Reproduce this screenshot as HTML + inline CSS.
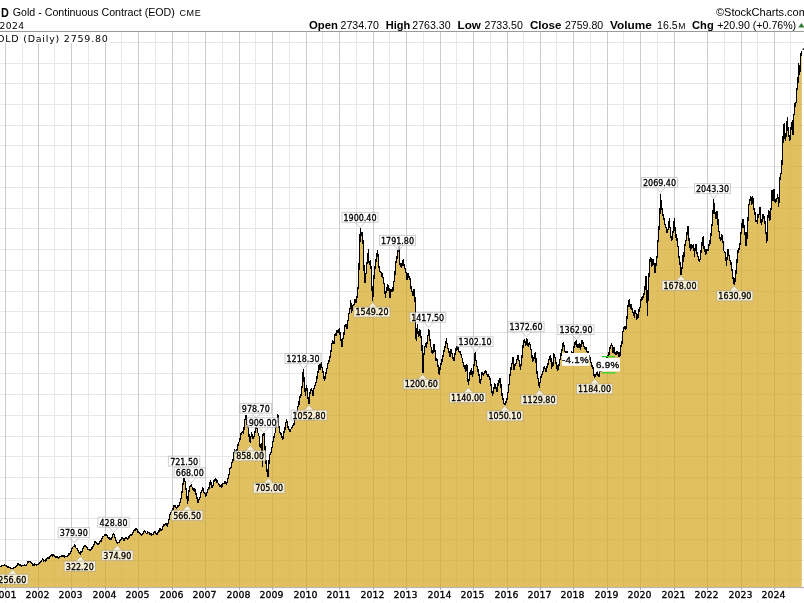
<!DOCTYPE html>
<html lang="en"><head><meta charset="utf-8"><title>$GOLD Gold - Continuous Contract (EOD) CME - StockCharts.com</title>
<style>
html,body{margin:0;padding:0;background:#fff;}
body{width:804px;height:603px;overflow:hidden;position:relative;}
svg{display:block;position:absolute;left:0;top:0;will-change:transform;}
text{font-family:"Liberation Sans",sans-serif;fill:#000;}
.dv{font-family:"DejaVu Sans","Liberation Sans",sans-serif;}
.dc{font-family:"DejaVu Sans Condensed","DejaVu Sans","Liberation Sans",sans-serif;}
.b{font-weight:bold;}
.lb rect,.lb path{fill:#fff;fill-opacity:.72;stroke:#8c8c8c;stroke-opacity:.42;stroke-width:1;}
.lb text{font-size:9.45px;text-anchor:middle;stroke:#000;stroke-width:.3px;}
</style></head><body>
<svg width="804" height="603" viewBox="0 0 804 603">
<rect x="0" y="0" width="804" height="603" fill="#fff"/>
<g id="grid" stroke-width="1"><line x1="0" y1="42.50" x2="804" y2="42.50" stroke="#e7e7e7"/><line x1="0" y1="63.50" x2="804" y2="63.50" stroke="#e7e7e7"/><line x1="0" y1="83.50" x2="804" y2="83.50" stroke="#e7e7e7"/><line x1="0" y1="104.50" x2="804" y2="104.50" stroke="#e7e7e7"/><line x1="0" y1="125.50" x2="804" y2="125.50" stroke="#e7e7e7"/><line x1="0" y1="145.50" x2="804" y2="145.50" stroke="#e7e7e7"/><line x1="0" y1="166.50" x2="804" y2="166.50" stroke="#e7e7e7"/><line x1="0" y1="187.50" x2="804" y2="187.50" stroke="#e7e7e7"/><line x1="0" y1="208.50" x2="804" y2="208.50" stroke="#e7e7e7"/><line x1="0" y1="228.50" x2="804" y2="228.50" stroke="#e7e7e7"/><line x1="0" y1="249.50" x2="804" y2="249.50" stroke="#e7e7e7"/><line x1="0" y1="270.50" x2="804" y2="270.50" stroke="#e7e7e7"/><line x1="0" y1="291.50" x2="804" y2="291.50" stroke="#e7e7e7"/><line x1="0" y1="311.50" x2="804" y2="311.50" stroke="#e7e7e7"/><line x1="0" y1="332.50" x2="804" y2="332.50" stroke="#e7e7e7"/><line x1="0" y1="353.50" x2="804" y2="353.50" stroke="#e7e7e7"/><line x1="0" y1="373.50" x2="804" y2="373.50" stroke="#e7e7e7"/><line x1="0" y1="394.50" x2="804" y2="394.50" stroke="#e7e7e7"/><line x1="0" y1="415.50" x2="804" y2="415.50" stroke="#e7e7e7"/><line x1="0" y1="436.50" x2="804" y2="436.50" stroke="#e7e7e7"/><line x1="0" y1="456.50" x2="804" y2="456.50" stroke="#e7e7e7"/><line x1="0" y1="477.50" x2="804" y2="477.50" stroke="#e7e7e7"/><line x1="0" y1="498.50" x2="804" y2="498.50" stroke="#e7e7e7"/><line x1="0" y1="518.50" x2="804" y2="518.50" stroke="#e7e7e7"/><line x1="0" y1="539.50" x2="804" y2="539.50" stroke="#e7e7e7"/><line x1="0" y1="560.50" x2="804" y2="560.50" stroke="#e7e7e7"/><line x1="0" y1="579.60" x2="804" y2="579.60" stroke="#e7e7e7"/><line x1="5.50" y1="31.5" x2="5.50" y2="587.3" stroke="#cccccc"/><line x1="22.50" y1="31.5" x2="22.50" y2="587.3" stroke="#e7e7e7"/><line x1="38.50" y1="31.5" x2="38.50" y2="587.3" stroke="#cccccc"/><line x1="54.50" y1="31.5" x2="54.50" y2="587.3" stroke="#e7e7e7"/><line x1="71.50" y1="31.5" x2="71.50" y2="587.3" stroke="#cccccc"/><line x1="88.50" y1="31.5" x2="88.50" y2="587.3" stroke="#e7e7e7"/><line x1="105.50" y1="31.5" x2="105.50" y2="587.3" stroke="#cccccc"/><line x1="121.50" y1="31.5" x2="121.50" y2="587.3" stroke="#e7e7e7"/><line x1="138.50" y1="31.5" x2="138.50" y2="587.3" stroke="#cccccc"/><line x1="155.50" y1="31.5" x2="155.50" y2="587.3" stroke="#e7e7e7"/><line x1="172.50" y1="31.5" x2="172.50" y2="587.3" stroke="#cccccc"/><line x1="188.50" y1="31.5" x2="188.50" y2="587.3" stroke="#e7e7e7"/><line x1="205.50" y1="31.5" x2="205.50" y2="587.3" stroke="#cccccc"/><line x1="222.50" y1="31.5" x2="222.50" y2="587.3" stroke="#e7e7e7"/><line x1="239.50" y1="31.5" x2="239.50" y2="587.3" stroke="#cccccc"/><line x1="255.50" y1="31.5" x2="255.50" y2="587.3" stroke="#e7e7e7"/><line x1="272.50" y1="31.5" x2="272.50" y2="587.3" stroke="#cccccc"/><line x1="289.50" y1="31.5" x2="289.50" y2="587.3" stroke="#e7e7e7"/><line x1="306.50" y1="31.5" x2="306.50" y2="587.3" stroke="#cccccc"/><line x1="322.50" y1="31.5" x2="322.50" y2="587.3" stroke="#e7e7e7"/><line x1="339.50" y1="31.5" x2="339.50" y2="587.3" stroke="#cccccc"/><line x1="356.50" y1="31.5" x2="356.50" y2="587.3" stroke="#e7e7e7"/><line x1="373.50" y1="31.5" x2="373.50" y2="587.3" stroke="#cccccc"/><line x1="389.50" y1="31.5" x2="389.50" y2="587.3" stroke="#e7e7e7"/><line x1="406.50" y1="31.5" x2="406.50" y2="587.3" stroke="#cccccc"/><line x1="423.50" y1="31.5" x2="423.50" y2="587.3" stroke="#e7e7e7"/><line x1="440.50" y1="31.5" x2="440.50" y2="587.3" stroke="#cccccc"/><line x1="456.50" y1="31.5" x2="456.50" y2="587.3" stroke="#e7e7e7"/><line x1="473.50" y1="31.5" x2="473.50" y2="587.3" stroke="#cccccc"/><line x1="490.50" y1="31.5" x2="490.50" y2="587.3" stroke="#e7e7e7"/><line x1="507.50" y1="31.5" x2="507.50" y2="587.3" stroke="#cccccc"/><line x1="523.50" y1="31.5" x2="523.50" y2="587.3" stroke="#e7e7e7"/><line x1="540.50" y1="31.5" x2="540.50" y2="587.3" stroke="#cccccc"/><line x1="556.50" y1="31.5" x2="556.50" y2="587.3" stroke="#e7e7e7"/><line x1="573.50" y1="31.5" x2="573.50" y2="587.3" stroke="#cccccc"/><line x1="590.50" y1="31.5" x2="590.50" y2="587.3" stroke="#e7e7e7"/><line x1="607.50" y1="31.5" x2="607.50" y2="587.3" stroke="#cccccc"/><line x1="623.50" y1="31.5" x2="623.50" y2="587.3" stroke="#e7e7e7"/><line x1="640.50" y1="31.5" x2="640.50" y2="587.3" stroke="#cccccc"/><line x1="657.50" y1="31.5" x2="657.50" y2="587.3" stroke="#e7e7e7"/><line x1="674.50" y1="31.5" x2="674.50" y2="587.3" stroke="#cccccc"/><line x1="724.50" y1="31.5" x2="724.50" y2="587.3" stroke="#e7e7e7"/><line x1="707.50" y1="31.5" x2="707.50" y2="587.3" stroke="#cccccc"/><line x1="757.50" y1="31.5" x2="757.50" y2="587.3" stroke="#e7e7e7"/><line x1="741.50" y1="31.5" x2="741.50" y2="587.3" stroke="#cccccc"/><line x1="757.50" y1="31.5" x2="757.50" y2="587.3" stroke="#e7e7e7"/><line x1="774.50" y1="31.5" x2="774.50" y2="587.3" stroke="#cccccc"/><line x1="790.50" y1="31.5" x2="790.50" y2="587.3" stroke="#e7e7e7"/></g>
<polygon id="area" points="0,587.3 0.0,566.6 0.39,566.3 0.77,566.4 1.16,566.0 1.54,565.7 1.93,565.3 2.31,565.4 2.7,565.3 3.1,565.6 3.5,565.2 3.9,565.3 4.3,564.8 4.7,564.6 5.1,565.1 5.5,565.5 5.9,565.2 6.3,566.5 6.7,566.6 7.07,566.9 7.43,567.1 7.8,566.4 8.17,566.6 8.53,567.0 8.9,567.3 9.27,567.7 9.63,567.7 10.0,567.9 10.37,568.2 10.74,567.9 11.11,568.3 11.49,568.4 11.86,568.2 12.23,569.1 12.6,568.6 13.0,568.6 13.4,568.6 13.8,567.7 14.2,567.5 14.6,567.5 15.0,567.2 15.4,567.1 15.8,567.2 16.2,566.9 16.6,566.6 16.95,565.6 17.3,564.6 17.65,563.9 18.0,563.3 18.43,564.4 18.87,564.3 19.3,565.3 19.7,565.5 20.1,565.7 20.5,565.1 20.9,565.8 21.3,565.9 21.69,566.3 22.07,565.0 22.46,565.5 22.84,565.5 23.23,565.2 23.61,565.6 24.0,565.3 24.37,565.2 24.74,564.6 25.11,565.3 25.49,565.2 25.86,565.2 26.23,565.2 26.6,564.6 27.0,564.1 27.4,563.3 27.8,562.1 28.2,562.2 28.6,561.3 29.0,561.3 29.4,561.6 29.8,561.6 30.2,562.0 30.6,562.6 30.99,562.7 31.37,563.7 31.76,562.7 32.14,563.2 32.53,564.1 32.91,564.9 33.3,564.6 33.69,564.9 34.07,564.0 34.46,563.8 34.84,564.9 35.23,564.5 35.61,564.4 36.0,564.9 36.37,565.1 36.74,565.0 37.11,564.5 37.49,564.4 37.86,564.3 38.23,564.6 38.6,563.9 39.0,563.7 39.4,563.3 39.8,562.9 40.2,561.7 40.6,561.9 41.02,561.8 41.45,561.0 41.88,560.2 42.3,559.3 42.7,559.0 43.1,560.0 43.5,561.1 43.9,561.3 44.3,560.3 44.7,560.7 45.1,560.9 45.5,559.7 45.9,559.9 46.3,560.2 46.7,559.3 47.1,558.6 47.5,558.4 47.9,557.9 48.3,558.1 48.7,557.7 49.1,558.0 49.5,557.1 49.9,557.3 50.3,556.6 50.7,556.7 51.1,555.7 51.5,554.8 51.9,554.6 52.3,555.3 52.7,555.8 53.1,555.2 53.5,555.0 53.9,555.9 54.3,556.0 54.7,556.1 55.1,556.2 55.5,557.1 55.9,556.6 56.3,556.4 56.7,557.7 57.1,556.8 57.5,557.3 57.9,557.9 58.3,557.9 58.7,557.9 59.1,557.5 59.5,557.0 59.9,556.6 60.3,556.5 60.7,556.4 61.1,556.4 61.5,556.0 61.9,555.9 62.3,555.9 62.7,555.9 63.1,555.5 63.5,555.8 63.9,555.3 64.3,555.8 64.7,556.7 65.1,556.2 65.5,556.2 65.9,556.6 66.3,556.3 66.7,556.3 67.1,556.6 67.5,555.9 67.9,555.9 68.3,555.7 68.7,555.9 69.1,553.6 69.5,553.8 69.9,553.9 70.3,553.0 70.7,552.0 71.1,550.8 71.5,549.5 71.9,548.6 72.33,548.3 72.77,547.4 73.2,546.6 73.55,545.8 73.9,546.7 74.25,545.1 74.6,544.4 75.0,545.2 75.4,546.5 75.8,547.4 76.2,548.6 76.54,548.8 76.88,547.8 77.22,549.1 77.56,550.1 77.9,549.9 78.3,550.2 78.7,551.5 79.1,552.7 79.5,553.5 79.9,553.9 80.3,554.2 80.7,552.3 81.1,552.5 81.5,552.1 81.9,551.9 82.3,551.3 82.7,550.6 83.1,547.9 83.5,548.7 83.9,547.3 84.33,546.1 84.77,546.6 85.2,545.7 85.6,545.4 86.0,546.7 86.4,547.6 86.8,547.4 87.2,547.9 87.6,548.4 88.0,549.1 88.4,549.2 88.8,549.5 89.2,549.9 89.6,550.5 90.0,550.2 90.4,549.4 90.8,550.7 91.2,549.3 91.6,548.1 92.0,548.4 92.4,547.2 92.8,546.7 93.2,546.0 93.6,545.6 94.0,544.5 94.4,543.9 94.8,542.0 95.2,542.0 95.6,541.6 96.0,543.1 96.4,542.7 96.8,543.1 97.2,544.0 97.6,543.1 98.0,544.4 98.4,544.0 98.8,544.2 99.2,543.3 99.55,542.2 99.9,542.1 100.25,540.9 100.6,541.4 100.95,541.2 101.3,539.3 101.65,540.0 102.0,538.6 102.4,538.6 102.8,537.5 103.2,535.9 103.6,537.3 104.0,536.0 104.4,535.5 104.8,534.9 105.2,535.0 105.6,534.6 106.0,534.0 106.4,535.5 106.8,534.7 107.2,536.6 107.6,537.5 108.0,537.3 108.4,538.4 108.8,537.7 109.2,537.7 109.6,538.9 110.0,538.6 110.43,538.9 110.87,539.1 111.3,539.3 111.73,538.8 112.17,536.5 112.6,535.3 112.95,533.7 113.3,534.4 113.65,533.3 114.0,534.0 114.43,536.0 114.87,537.2 115.3,538.6 115.7,539.2 116.1,540.5 116.5,541.9 116.9,542.4 117.3,543.3 117.7,543.6 118.1,542.5 118.5,542.6 118.9,542.5 119.3,541.3 119.7,541.9 120.1,540.4 120.5,540.9 120.9,539.2 121.3,539.9 121.73,538.6 122.17,537.5 122.6,537.9 122.95,539.2 123.3,538.6 123.65,539.9 124.0,540.6 124.4,539.8 124.8,539.3 125.2,538.3 125.6,538.1 126.0,537.3 126.38,538.5 126.76,537.8 127.14,538.4 127.52,538.9 127.9,538.6 128.3,538.0 128.7,536.9 129.1,536.7 129.5,537.1 129.9,536.0 130.3,534.8 130.7,535.1 131.1,535.7 131.5,535.3 131.9,534.6 132.3,533.9 132.7,533.7 133.1,532.7 133.5,531.3 133.9,531.3 134.3,529.7 134.7,529.6 135.1,529.9 135.5,528.3 135.9,528.0 136.3,528.3 136.7,529.1 137.1,529.5 137.5,531.1 137.9,532.0 138.3,531.7 138.7,533.0 139.1,531.8 139.5,533.8 139.9,534.0 140.3,533.9 140.7,533.4 141.1,535.2 141.5,534.9 141.9,535.3 142.25,533.3 142.6,533.4 142.95,533.4 143.3,532.6 143.73,531.7 144.17,531.7 144.6,530.6 145.0,531.6 145.4,532.1 145.8,532.4 146.2,533.5 146.6,533.3 147.0,533.4 147.4,533.0 147.8,531.3 148.2,532.8 148.6,532.0 149.0,533.2 149.4,532.6 149.8,532.9 150.2,534.7 150.6,534.0 151.0,533.1 151.4,534.5 151.8,535.8 152.2,533.9 152.6,534.6 153.0,534.3 153.4,534.4 153.8,532.5 154.2,532.3 154.6,531.3 155.0,532.5 155.4,532.1 155.8,533.2 156.2,534.1 156.6,534.6 157.0,534.6 157.4,533.5 157.8,532.9 158.2,531.9 158.6,532.0 158.94,531.1 159.28,531.2 159.62,530.0 159.96,528.8 160.3,528.6 160.7,528.4 161.1,530.9 161.5,530.3 161.9,530.0 162.3,529.3 162.7,526.2 163.1,527.1 163.5,526.0 163.9,524.6 164.3,525.6 164.7,524.6 165.1,524.2 165.5,524.5 165.9,524.0 166.3,523.3 166.7,525.7 167.1,525.7 167.5,526.0 167.93,523.5 168.37,522.9 168.8,520.0 169.17,519.7 169.53,515.9 169.9,515.3 170.33,513.7 170.77,513.3 171.2,512.0 171.6,511.3 172.0,510.1 172.4,508.9 172.8,510.4 173.2,508.0 173.6,508.1 174.0,505.8 174.4,505.0 174.8,506.6 175.2,504.7 175.55,506.3 175.9,507.7 176.25,507.8 176.6,508.0 176.98,507.1 177.36,507.7 177.74,505.6 178.12,506.4 178.5,506.7 178.85,505.7 179.2,505.1 179.55,503.1 179.9,502.7 180.3,500.9 180.7,499.7 181.1,498.0 181.5,496.0 181.93,493.0 182.37,489.0 182.8,485.3 183.15,483.2 183.5,482.4 183.85,479.9 184.2,478.0 184.63,479.4 185.07,481.8 185.5,484.6 185.87,487.5 186.23,490.3 186.6,493.3 187.1,498.7 187.6,503.9 188.05,498.6 188.5,493.3 188.85,491.8 189.2,489.8 189.55,487.2 189.9,486.6 190.33,486.3 190.77,486.2 191.2,484.6 191.63,486.3 192.07,487.1 192.5,488.6 192.85,489.7 193.2,489.1 193.55,489.0 193.9,491.3 194.33,490.9 194.77,489.6 195.2,490.0 195.63,493.1 196.07,494.0 196.5,497.3 196.85,496.5 197.2,499.1 197.55,502.5 197.9,502.6 198.32,501.3 198.75,499.5 199.18,499.0 199.6,498.6 200.0,497.4 200.4,495.7 200.8,493.8 201.2,492.0 201.6,492.1 202.0,490.3 202.4,488.5 202.8,487.3 203.16,489.0 203.52,491.1 203.88,491.7 204.24,493.0 204.6,493.3 204.95,493.0 205.3,494.5 205.65,495.9 206.0,495.9 206.43,493.9 206.87,493.3 207.3,490.6 207.7,490.1 208.1,489.3 208.5,487.2 208.9,488.6 209.3,485.3 209.73,484.9 210.17,482.0 210.6,480.6 210.95,482.5 211.3,486.6 211.65,485.8 212.0,487.9 212.43,487.4 212.85,486.1 213.27,483.9 213.7,482.6 214.1,480.5 214.5,480.8 214.9,479.9 215.3,478.6 215.7,480.2 216.1,480.4 216.5,480.2 216.9,481.6 217.3,481.3 217.7,482.6 218.1,483.1 218.5,483.7 218.9,484.3 219.3,485.3 219.7,486.3 220.1,485.2 220.5,485.9 220.9,486.9 221.3,487.3 221.7,485.3 222.1,485.6 222.5,483.5 222.9,484.0 223.3,483.9 223.7,483.8 224.1,483.1 224.5,481.9 224.9,481.3 225.32,481.6 225.75,481.0 226.18,484.5 226.6,483.3 226.94,482.6 227.28,481.9 227.62,478.9 227.96,478.3 228.3,477.3 228.65,473.9 229.0,474.7 229.35,473.2 229.7,470.6 230.1,467.7 230.5,468.5 230.9,468.2 231.3,466.6 231.7,463.5 232.1,462.1 232.5,461.5 232.9,461.3 233.32,457.6 233.75,453.8 234.18,452.3 234.6,449.3 235.03,450.9 235.47,452.7 235.9,453.3 236.24,452.9 236.59,452.7 236.93,451.2 237.27,447.3 237.61,447.0 237.96,445.2 238.3,445.3 238.7,442.4 239.1,442.0 239.5,440.5 239.9,439.5 240.3,437.3 240.7,434.3 241.1,433.7 241.5,434.1 241.9,432.8 242.3,432.0 242.73,432.0 243.17,432.8 243.6,433.3 244.03,427.9 244.47,425.3 244.9,420.0 245.4,417.8 245.9,414.6 246.4,419.2 246.9,424.0 247.25,424.8 247.6,427.1 247.95,425.5 248.3,430.6 248.8,433.4 249.3,438.6 249.8,440.6 250.3,442.6 250.73,437.3 251.17,435.8 251.6,432.0 252.03,434.4 252.47,434.7 252.9,438.6 253.25,437.6 253.6,436.9 253.95,437.2 254.3,436.0 254.73,434.1 255.17,430.6 255.6,428.0 256.03,427.1 256.47,428.2 256.9,428.6 257.33,430.1 257.77,432.6 258.2,433.3 258.55,435.3 258.9,435.7 259.25,436.6 259.6,439.9 260.2,447.9 260.55,446.5 260.9,445.0 261.25,443.6 261.6,443.9 262.05,455.1 262.5,466.6 262.9,434.6 263.27,433.6 263.63,433.9 264.0,433.3 264.45,440.6 264.9,446.6 265.35,452.1 265.8,458.6 266.17,464.5 266.53,465.3 266.9,469.2 267.27,472.9 267.63,474.5 268.0,477.0 268.45,471.6 268.9,463.9 269.33,457.8 269.77,456.0 270.2,453.3 270.55,452.6 270.9,452.0 271.25,452.9 271.6,449.3 272.03,447.0 272.47,445.4 272.9,441.3 273.33,440.4 273.77,438.9 274.2,436.0 274.55,435.3 274.9,433.1 275.25,432.6 275.6,430.6 276.03,426.6 276.47,426.8 276.9,422.6 277.35,417.3 277.8,414.6 278.17,418.9 278.53,425.4 278.9,426.6 279.33,428.6 279.77,431.1 280.2,433.3 280.55,435.1 280.9,434.0 281.25,433.3 281.6,434.6 282.1,437.6 282.6,439.9 283.03,438.4 283.47,436.4 283.9,433.3 284.25,430.3 284.6,431.5 284.95,429.4 285.3,425.3 285.73,423.3 286.17,421.6 286.6,419.3 287.03,421.4 287.47,426.5 287.9,427.3 288.26,427.2 288.62,429.7 288.98,429.1 289.34,429.6 289.7,431.3 290.1,431.5 290.5,431.6 290.9,429.3 291.3,428.6 291.7,426.9 292.1,428.0 292.5,426.1 292.9,425.8 293.3,424.6 293.73,425.2 294.17,423.4 294.6,420.6 295.03,417.7 295.47,419.2 295.9,414.0 296.3,414.2 296.7,412.3 297.1,411.6 297.5,407.7 297.9,406.7 298.3,404.9 298.69,401.0 299.07,404.8 299.46,402.9 299.84,397.8 300.23,396.1 300.61,394.6 301.0,395.6 301.43,393.8 301.87,387.8 302.3,384.9 302.67,379.5 303.03,373.8 303.4,369.0 303.85,376.8 304.3,384.9 304.73,386.8 305.17,392.1 305.6,395.6 306.1,388.1 306.6,384.9 307.1,389.5 307.6,394.3 307.95,397.1 308.3,399.6 308.65,400.9 309.0,403.6 309.5,396.9 310.0,392.9 310.4,391.8 310.8,389.5 311.2,391.3 311.6,387.6 311.95,390.8 312.3,391.4 312.65,392.9 313.0,395.6 313.43,391.9 313.87,388.9 314.3,387.6 314.7,385.7 315.1,385.4 315.5,384.4 315.9,383.2 316.3,381.0 316.73,382.0 317.15,375.2 317.57,374.0 318.0,371.6 318.5,372.9 319.0,365.0 319.45,364.6 319.9,370.3 320.33,366.8 320.77,365.2 321.2,362.3 321.62,364.9 322.05,367.6 322.47,368.9 322.9,371.6 323.26,374.1 323.62,375.4 323.98,378.5 324.34,376.1 324.7,381.0 325.13,376.9 325.57,375.7 326.0,373.0 326.4,369.6 326.8,367.9 327.2,369.0 327.6,366.3 328.0,363.5 328.4,364.0 328.8,362.5 329.2,359.6 329.6,358.5 330.0,357.1 330.4,354.6 330.85,351.7 331.3,349.2 331.73,343.6 332.17,342.9 332.6,339.9 332.95,341.7 333.3,340.9 333.65,342.7 334.0,343.9 334.43,341.7 334.87,335.2 335.3,333.3 335.7,334.0 336.1,335.7 336.5,330.6 336.9,331.4 337.3,330.6 337.7,329.8 338.1,332.5 338.5,329.6 338.9,330.2 339.3,327.9 339.73,330.2 340.17,335.0 340.6,338.6 340.95,340.6 341.3,339.4 341.65,347.2 342.0,346.6 342.43,345.6 342.87,338.1 343.3,338.6 343.73,336.7 344.15,331.7 344.57,329.5 345.0,325.3 345.4,326.7 345.8,323.7 346.2,326.8 346.6,327.9 346.95,329.1 347.3,323.5 347.65,321.0 348.0,321.3 348.43,315.9 348.87,313.5 349.3,313.3 349.73,309.6 350.17,307.9 350.6,300.0 350.95,303.5 351.3,305.8 351.65,312.6 352.0,310.6 352.43,307.8 352.87,305.7 353.3,305.3 353.73,305.1 354.17,303.8 354.6,301.3 355.0,299.5 355.4,299.5 355.8,302.9 356.2,302.6 356.7,299.8 357.2,296 357.6,289.4 358.0,288.1 358.4,284.8 358.8,272.2 359.2,262 359.8,245 360.3,228.3 360.67,231.9 361.03,232.9 361.4,235.6 361.85,233.4 362.3,231.6 362.75,237.4 363.2,244.9 363.55,257.4 363.9,264.9 364.4,277.0 364.9,282.8 365.4,277.5 365.9,273.8 366.27,272.3 366.65,265.1 367.02,263.5 367.4,259.9 367.9,256.5 368.4,249.5 368.9,260.8 369.4,264.9 369.9,261.5 370.4,259.9 370.9,266.2 371.4,272.8 372.0,288 372.6,301.3 373.05,295.1 373.5,288 373.95,277.1 374.4,272.8 374.75,270.4 375.1,266.3 375.45,266.2 375.8,262.9 376.3,257.7 376.8,257.9 377.3,250.4 377.8,252.4 378.3,259.2 378.8,265.9 379.18,268.0 379.55,267.6 379.93,272.4 380.3,271.8 380.68,272.2 381.05,272.4 381.43,275.9 381.8,275.8 382.18,272.8 382.55,275.3 382.93,277.3 383.3,277.8 383.8,282.7 384.3,283.8 384.7,288.2 385.1,293.9 385.5,298 385.93,292.9 386.37,291.3 386.8,287 387.2,290.1 387.6,284.5 388.0,290.7 388.4,285 388.77,286.7 389.15,291.2 389.52,294.6 389.9,297.3 390.25,298.1 390.6,291.9 390.95,288.6 391.3,291.7 391.68,291.8 392.05,291.0 392.43,289.4 392.8,286.8 393.18,290.9 393.55,283.8 393.93,282.1 394.3,279.8 394.75,277.0 395.2,269.9 395.7,265.8 396.2,259.9 396.7,261.3 397.2,254.9 397.63,250.6 398.07,251.3 398.5,250.9 399.0,246.2 399.5,257.9 399.85,263.3 400.2,264.9 400.7,265.0 401.2,266.9 401.7,267.0 402.2,262.9 402.7,266.0 403.2,258.9 403.7,262.9 404.2,266.9 404.57,267.5 404.95,268.2 405.32,268.7 405.7,271.8 406.07,272.4 406.45,277.2 406.82,277.9 407.2,279.8 407.7,276.4 408.2,272.8 408.57,273.4 408.95,276.9 409.32,276.9 409.7,276.8 410.2,280.0 410.7,283.8 411.2,289.2 411.7,291.7 412.07,292.1 412.43,290.8 412.8,294 413.17,295.6 413.53,291.9 413.9,289.3 414.27,289.9 414.63,296.9 415.0,297.3 415.35,309.4 415.7,320.0 416.2,341.3 416.57,332.6 416.93,332.8 417.3,324.0 417.73,329.1 418.17,334.6 418.6,337.3 418.95,336.0 419.3,333.7 419.65,329.4 420.0,330.6 420.5,335.1 421.0,336.0 421.5,341.4 422.0,346.6 422.45,359.4 422.9,373.2 423.27,367.2 423.63,360.1 424.0,353.3 424.43,351.8 424.87,347.3 425.3,345.3 425.73,346.1 426.17,343.2 426.6,347.9 426.97,343.2 427.33,341.2 427.7,336.0 428.15,334.8 428.6,328.6 428.95,330.7 429.3,334.0 429.65,340.0 430.0,339.9 430.43,342.0 430.87,346.6 431.3,347.9 431.73,352.7 432.17,351.6 432.6,353.3 432.95,353.1 433.3,347.3 433.65,346.6 434.0,343.9 434.43,346.9 434.87,350.4 435.3,353.3 435.73,357.0 436.17,361.0 436.6,358.6 437.03,359.7 437.47,362.0 437.9,365.2 438.25,368.4 438.6,368.2 438.95,373.1 439.3,374.6 439.73,372.0 440.17,367.0 440.6,363.9 441.0,364.0 441.4,359.7 441.8,362.8 442.2,358.1 442.6,359.9 443.03,356.0 443.47,353.6 443.9,351.9 444.25,349.5 444.6,350.1 444.95,347.1 445.3,345.3 445.73,342.1 446.17,341.4 446.6,337.9 446.97,343.7 447.33,343.7 447.7,346.6 448.1,348.9 448.5,352.1 448.9,352.1 449.3,353.3 449.7,350.8 450.1,357.1 450.5,356.3 450.9,348.7 451.3,351.9 451.73,352.7 452.17,354.4 452.6,354.6 453.03,358.5 453.47,360.2 453.9,361.3 454.25,358.5 454.6,354.8 454.95,354.4 455.3,351.9 455.73,352.6 456.15,347.7 456.57,346.6 457.0,347.3 457.4,348.4 457.8,346.2 458.2,350.3 458.6,351.9 459.0,351.4 459.4,353.3 459.8,351.5 460.2,351.5 460.6,353.3 461.03,354.2 461.47,356.3 461.9,358.0 462.3,358.2 462.7,360.7 463.1,363.2 463.5,365.3 463.9,364.6 464.26,368.5 464.62,365.5 464.98,367.1 465.34,364.8 465.7,370.0 466.13,371.4 466.57,365.2 467.0,364.6 467.43,371.2 467.87,378.8 468.3,384.6 468.7,380.1 469.1,380.7 469.5,377.6 469.9,375.3 470.25,370.7 470.6,372.4 470.95,372.2 471.3,368.6 471.73,368.2 472.17,375.2 472.6,376.6 473.03,373.4 473.47,370.3 473.9,366.0 474.33,362.1 474.77,358.8 475.2,351.9 475.55,354.7 475.9,359.8 476.25,360.7 476.6,364.6 477.0,367.1 477.4,365.9 477.8,368.4 478.2,372.8 478.6,371.3 479.03,375.3 479.45,377.6 479.88,379.3 480.3,384.4 480.7,380.2 481.1,378.8 481.5,377.0 481.9,372.6 482.3,373.6 482.7,374.0 483.1,373.4 483.5,375.9 483.9,374.0 484.24,372.6 484.58,371.5 484.92,373.0 485.26,370.9 485.6,370.0 486.0,370.9 486.4,371.7 486.8,373.6 487.2,375.3 487.6,376.6 488.0,376.4 488.4,374.1 488.8,377.0 489.2,376.6 489.6,378.8 490.0,378.8 490.4,383.5 490.8,383.7 491.2,386.0 491.6,387.8 492.0,391.8 492.4,395.0 492.8,395.3 493.16,391.9 493.52,391.2 493.88,386.8 494.24,389.2 494.6,383.3 495.0,383.9 495.4,387.8 495.8,386.3 496.2,389.8 496.6,389.9 496.98,392.0 497.36,383.4 497.74,385.3 498.12,385.4 498.5,383.3 498.88,381.9 499.25,379.7 499.62,382.9 500.0,378.3 500.4,381.6 500.8,382.1 501.2,389.2 501.6,388.4 502.0,394.2 502.4,397.8 502.8,397.1 503.2,400.1 503.6,403.6 504.0,403.6 504.4,404.6 504.8,405.2 505.2,402.5 505.6,401.3 506.0,402.9 506.43,402.6 506.87,400.0 507.3,396.9 507.65,393.0 508.0,392.9 508.35,389.7 508.7,386.3 509.13,383.8 509.57,375.6 510.0,375.6 510.43,371.5 510.87,369.9 511.3,364.9 511.73,364.4 512.17,362.9 512.6,359.6 512.96,357.1 513.32,363.1 513.68,365.2 514.04,370.3 514.4,367.6 514.8,365.0 515.2,365.1 515.6,364.7 516.0,363.6 516.4,363.1 516.8,358.8 517.2,359.6 517.6,355.6 518.02,355.9 518.45,359.4 518.88,359.7 519.3,362.3 519.73,365.2 520.17,366.5 520.6,370.3 520.95,364.3 521.3,365.5 521.65,360.8 522.0,357.0 522.43,351.5 522.87,348.4 523.3,343.6 523.73,344.1 524.17,339.1 524.6,339.6 525.1,342.7 525.6,346.3 526.1,343.3 526.6,338.3 526.95,340.9 527.3,341.0 527.65,339.5 528.0,345.0 528.43,346.4 528.87,343.8 529.3,342.3 529.7,344.0 530.1,345.1 530.5,347.8 530.9,349.0 531.24,350.9 531.58,352.5 531.92,355.7 532.26,358.6 532.6,362.3 532.95,360.3 533.3,358.3 533.65,360.4 534.0,358.3 534.43,353.8 534.87,355.0 535.3,351.6 535.75,355.9 536.2,363.6 536.62,367.9 537.05,373.2 537.48,375.0 537.9,378.3 538.3,379.5 538.7,383.0 539.1,385.5 539.5,387.6 539.86,382.5 540.22,381.8 540.58,380.7 540.94,377.3 541.3,375.6 541.73,374.4 542.17,374.1 542.6,371.6 543.0,371.5 543.4,370.4 543.8,368.6 544.2,366.3 544.62,367.2 545.05,368.9 545.48,369.8 545.9,371.6 546.25,370.1 546.6,369.3 546.95,365.8 547.3,367.6 547.64,365.4 547.98,364.4 548.32,361.2 548.66,361.2 549.0,359.6 549.43,359.2 549.87,356.7 550.3,355.6 550.65,362.4 551.0,357.8 551.35,365.2 551.7,368.9 552.1,363.5 552.5,365.9 552.9,366.4 553.3,359.6 553.73,353.5 554.17,356.3 554.6,354.3 555.03,357.9 555.47,359.1 555.9,362.3 556.3,364.8 556.7,361.8 557.1,368.5 557.5,369.3 557.9,370.3 558.25,368.3 558.6,365.3 558.95,365.4 559.3,362.3 559.64,360.1 559.98,360.0 560.32,357.4 560.66,353.1 561.0,355.6 561.43,352.9 561.87,350.6 562.3,347.6 562.73,347.4 563.17,343.0 563.6,343.0 563.95,345.1 564.3,348.4 564.65,349.7 565.0,351.6 565.4,354.1 565.8,355.8 566.2,351.1 566.6,353.0 567.0,351.0 567.4,357.1 567.8,359.6 568.2,358.3 568.63,360.3 569.07,360.6 569.5,359.6 569.84,357.7 570.18,356.8 570.52,358.7 570.86,354.8 571.2,355.6 571.6,351.6 572.0,352.3 572.4,357.6 572.8,355.8 573.2,351.6 573.55,348.7 573.9,347.0 574.25,347.1 574.6,345.0 575.0,342.6 575.4,345.4 575.8,341.9 576.2,341.0 576.62,340.7 577.05,346.7 577.48,344.9 577.9,347.6 578.33,346.7 578.77,344.9 579.2,343.6 579.55,344.7 579.9,347.5 580.25,347.4 580.6,350.3 581.02,344.7 581.45,341.7 581.88,341.0 582.3,341.0 582.7,341.0 583.1,343.6 583.5,345.1 583.9,346.3 584.3,348.1 584.7,348.1 585.1,347.3 585.5,348.2 585.9,350.3 586.3,346.8 586.7,350.5 587.1,351.9 587.5,352.3 587.9,351.6 588.3,352.4 588.7,353.3 589.1,356.2 589.5,355.6 589.84,357.2 590.18,360.1 590.52,361.4 590.86,362.4 591.2,363.6 591.6,366.8 592.0,364.8 592.4,366.2 592.8,366.5 593.2,368.9 593.6,369.6 594.0,375.4 594.4,377.8 594.8,376.9 595.14,375.9 595.48,375.7 595.82,375.6 596.16,374.0 596.5,371.6 596.9,374.4 597.3,371.2 597.7,373.0 598.1,375.5 598.5,375.6 598.9,376.9 599.3,373.8 599.7,371.2 600.1,371.6 600.45,370.6 600.8,369.7 601.15,369.0 601.5,370 601.88,371.5 602.25,367.0 602.62,367.0 603,366 603.38,368.4 603.75,365.5 604.12,362.8 604.5,361 604.88,359.2 605.25,360.2 605.62,361.5 606,358 606.38,358.7 606.76,359.3 607.14,356.9 607.52,357.2 607.9,355.9 608.25,354.1 608.6,353.8 608.95,354.0 609.3,350.3 609.65,346.9 610.0,348.4 610.35,348.0 610.7,346.7 611.2,344.3 611.7,343.9 612.05,345.3 612.4,349.2 612.75,353.3 613.1,351.7 613.45,352.1 613.8,350.9 614.15,346.9 614.5,348.9 614.85,353.7 615.2,351.8 615.55,353.0 615.9,354.5 616.28,352.0 616.66,353.3 617.04,350.9 617.42,352.4 617.8,351.7 618.15,353.9 618.5,354.6 618.85,356.4 619.2,357.3 619.55,354.1 619.9,356.3 620.25,350.9 620.6,350.3 620.95,345.3 621.3,346.4 621.65,343.6 622.0,343.2 622.45,335.8 622.9,332.2 623.27,330.2 623.63,330.1 624.0,328.2 624.43,326.2 624.87,328.5 625.3,329.0 625.75,329.9 626.2,325.3 626.6,322.8 627.0,317.6 627.5,311.3 628.0,305.6 628.43,303.9 628.87,301.4 629.3,299.6 629.73,302.4 630.17,306.9 630.6,308.3 631.0,308.6 631.4,304.4 631.8,309.8 632.2,308.6 632.6,310.9 632.95,313.2 633.3,311.7 633.65,314.2 634.0,314.9 634.43,317.9 634.87,310.1 635.3,310.9 635.73,311.8 636.17,314.3 636.6,320.2 637.0,314.7 637.4,314.9 637.8,318.6 638.2,315.8 638.6,316.3 639.03,309.9 639.47,308.0 639.9,308.3 640.3,306.9 640.7,301.3 641.1,299.5 641.5,297.6 641.86,297.8 642.22,299.4 642.58,300.1 642.94,297.6 643.3,294.9 643.64,293.9 643.98,292.7 644.32,294.8 644.66,292.7 645.0,288.3 645.45,281.6 645.9,276.3 646.4,286.6 646.9,294.9 647.5,316.3 647.85,302.9 648.2,288.3 648.57,282.7 648.93,275.7 649.3,271.0 649.8,261.3 650.3,257.7 650.65,258.4 651.0,258.1 651.35,266.6 651.7,265.7 652.1,265.3 652.5,259.5 652.9,263.9 653.3,259.0 653.73,265.1 654.17,262.6 654.6,271.0 655.03,272.6 655.47,267.5 655.9,263.0 656.25,265.9 656.6,256.1 656.95,258.3 657.3,255.0 657.7,244.2 658.13,240.0 658.57,234.1 659,228.3 659.5,220.7 660,212.3 660.6,193.6 660.97,201.7 661.33,200.4 661.7,209.6 662.13,208.1 662.57,209.5 663,214.9 663.35,214.8 663.7,216.0 664.05,219.9 664.4,220.3 664.83,223.7 665.27,225.7 665.7,228.3 666.1,227.2 666.5,228.5 666.9,232.7 667.3,230.9 667.73,231.5 668.17,228.5 668.6,226.9 669.05,221.8 669.5,218.3 669.87,227.4 670.23,227.0 670.6,233.6 671.03,237.4 671.47,240.9 671.9,240.2 672.25,237.6 672.6,238.3 672.95,231.5 673.3,232.3 673.8,227.6 674.3,217.6 674.8,226.1 675.3,233.6 675.73,231.4 676.17,238.8 676.6,238.9 677.03,238.9 677.47,246.5 677.9,245.6 678.25,248.2 678.6,254 678.95,255.9 679.3,259.3 679.65,260.2 680,263.3 680.45,269.5 680.9,274.5 681.33,270.4 681.77,270.4 682.2,266 682.55,263.7 682.9,261.8 683.25,252.5 683.6,256.6 684.02,256.7 684.45,251.2 684.88,244.0 685.3,245.6 685.73,242.3 686.17,239.6 686.6,234.9 687.03,234.8 687.47,226.4 687.9,226.3 688.25,233.1 688.6,231.5 688.95,240.9 689.3,237.6 689.73,241.6 690.17,247.9 690.6,250.6 691.03,248.0 691.47,244.6 691.9,245.6 692.25,247.9 692.6,247.0 692.95,248.1 693.3,243.9 693.73,250.2 694.17,251.0 694.6,256.6 695.03,248.6 695.47,247.0 695.9,244.6 696.25,245.3 696.6,247.3 696.95,253.1 697.3,254 697.7,256.4 698.1,256.6 698.5,259.2 698.9,260.1 699.3,262 699.7,260.2 700.1,259.1 700.5,257.2 700.9,252.6 701.4,247.4 701.9,245.6 702.33,238.5 702.77,242.5 703.2,235.6 703.6,240.7 704.0,247.9 704.4,250 704.8,247.7 705.2,252.5 705.6,254.9 706.0,253.6 706.4,248.8 706.8,249.7 707.2,249.6 707.6,250.6 708.0,250.6 708.4,251.1 708.8,244.3 709.2,245.6 709.55,240.5 709.9,243.5 710.25,242.9 710.6,238.9 711.03,235.0 711.47,226.7 711.9,225.6 712.35,222.3 712.8,214.9 713.2,209.0 713.6,199 714.1,206.4 714.6,211 715.03,212.4 715.47,217.1 715.9,218.9 716.33,218.3 716.77,212.2 717.2,211 717.65,212.9 718.1,224.3 718.45,227.7 718.8,230.7 719.15,232.1 719.5,234.6 719.93,238.9 720.37,237.3 720.8,240.9 721.23,238.6 721.67,235.9 722.1,234.6 722.45,238.4 722.8,243.4 723.15,241.2 723.5,244.2 723.84,250.9 724.18,251.3 724.52,251.2 724.86,252.3 725.2,252.6 725.55,260.1 725.9,258.9 726.25,262.4 726.6,266 727.03,257.7 727.47,255.5 727.9,248.6 728.33,254.5 728.77,255.2 729.2,256.6 729.6,259.5 730.0,259.9 730.4,262.6 730.8,260.8 731.2,266 731.55,270.7 731.9,269.7 732.25,270.4 732.6,275.3 733.1,278.1 733.6,284.3 733.95,281.6 734.3,284.3 734.65,283.9 735,280.6 735.43,273.1 735.87,273.8 736.3,267.3 736.73,265.8 737.17,258.8 737.6,256.6 738.03,250.8 738.47,250.4 738.9,250 739.3,246.3 739.7,246.6 740.1,242.8 740.5,241.6 740.93,232.5 741.37,234.3 741.8,229.7 742.15,223.2 742.5,227.0 742.85,219.1 743.2,219.7 743.7,222.3 744.2,228.4 744.63,229.8 745.07,234.1 745.5,239.0 746.0,245.5 746.5,245.6 746.95,237.8 747.4,225.7 747.77,222.4 748.13,216.8 748.5,211.1 748.93,204.0 749.37,203.5 749.8,201.8 750.3,197.7 750.8,196.5 751.3,198.0 751.8,204.5 752.25,201.8 752.7,196.5 753.07,199.0 753.43,203.5 753.8,209.8 754.23,208.9 754.67,208.0 755.1,215.1 755.53,218.4 755.97,222.1 756.4,220.4 756.77,222.2 757.13,220.5 757.5,224.4 757.93,213.8 758.37,217.8 758.8,213.8 759.23,214.7 759.67,210.1 760.1,207.1 760.6,217.5 761.1,223.1 761.53,224.7 761.97,221.6 762.4,216.4 762.83,214.4 763.27,217.4 763.7,213.8 764.13,218.9 764.57,216.0 765.0,223.1 765.5,227.4 766.0,233.7 766.4,234.7 766.8,242.9 767.25,231.4 767.7,220.4 768.05,216.6 768.4,209.8 768.83,210.6 769.27,211.5 769.7,220.4 770.13,219.8 770.57,213.4 771.0,208.5 771.37,206.1 771.73,192.7 772.1,189.9 772.55,198.0 773.0,200.5 773.45,199.9 773.9,188.6 774.25,197.5 774.6,195.4 774.95,200.2 775.3,203.2 775.73,201.0 776.17,202.3 776.6,197.9 777.1,198.6 777.6,193.9 777.97,198.5 778.33,199.2 778.7,207.1 779.15,197.1 779.6,183.3 780.05,177.7 780.5,174.6 780.87,174.5 781.23,171.8 781.6,169.3 782.05,162.9 782.5,148.1 782.85,144.4 783.2,134.8 783.7,127.7 784.2,122.9 784.65,131.8 785.1,138.8 785.6,140.7 786.1,133.5 786.53,126.8 786.97,124.0 787.4,117.5 787.77,125.5 788.13,130.5 788.5,132.1 788.93,136.5 789.37,134.9 789.8,141.4 790.23,133.3 790.67,132.3 791.1,126.8 791.47,125.6 791.83,129.0 792.2,120.2 792.65,125.3 793.1,134.8 793.45,127.8 793.8,114.9 794.3,113.6 794.8,108.3 795.15,102.3 795.5,102.8 795.85,103.7 796.2,101.6 796.5,93.9 796.93,89.5 797.37,87.3 797.8,84.6 798.25,75.2 798.7,63.4 799.1,67.2 799.5,75.3 799.95,71.2 800.4,64.7 800.9,56.0 801.4,50.7 801.7,54.7 801.8,54.7 801.8,587.3" fill="#d3a51c" fill-opacity="0.7"/>
<polyline id="price" points="0.0,566.6 0.39,566.3 0.77,566.4 1.16,566.0 1.54,565.7 1.93,565.3 2.31,565.4 2.7,565.3 3.1,565.6 3.5,565.2 3.9,565.3 4.3,564.8 4.7,564.6 5.1,565.1 5.5,565.5 5.9,565.2 6.3,566.5 6.7,566.6 7.07,566.9 7.43,567.1 7.8,566.4 8.17,566.6 8.53,567.0 8.9,567.3 9.27,567.7 9.63,567.7 10.0,567.9 10.37,568.2 10.74,567.9 11.11,568.3 11.49,568.4 11.86,568.2 12.23,569.1 12.6,568.6 13.0,568.6 13.4,568.6 13.8,567.7 14.2,567.5 14.6,567.5 15.0,567.2 15.4,567.1 15.8,567.2 16.2,566.9 16.6,566.6 16.95,565.6 17.3,564.6 17.65,563.9 18.0,563.3 18.43,564.4 18.87,564.3 19.3,565.3 19.7,565.5 20.1,565.7 20.5,565.1 20.9,565.8 21.3,565.9 21.69,566.3 22.07,565.0 22.46,565.5 22.84,565.5 23.23,565.2 23.61,565.6 24.0,565.3 24.37,565.2 24.74,564.6 25.11,565.3 25.49,565.2 25.86,565.2 26.23,565.2 26.6,564.6 27.0,564.1 27.4,563.3 27.8,562.1 28.2,562.2 28.6,561.3 29.0,561.3 29.4,561.6 29.8,561.6 30.2,562.0 30.6,562.6 30.99,562.7 31.37,563.7 31.76,562.7 32.14,563.2 32.53,564.1 32.91,564.9 33.3,564.6 33.69,564.9 34.07,564.0 34.46,563.8 34.84,564.9 35.23,564.5 35.61,564.4 36.0,564.9 36.37,565.1 36.74,565.0 37.11,564.5 37.49,564.4 37.86,564.3 38.23,564.6 38.6,563.9 39.0,563.7 39.4,563.3 39.8,562.9 40.2,561.7 40.6,561.9 41.02,561.8 41.45,561.0 41.88,560.2 42.3,559.3 42.7,559.0 43.1,560.0 43.5,561.1 43.9,561.3 44.3,560.3 44.7,560.7 45.1,560.9 45.5,559.7 45.9,559.9 46.3,560.2 46.7,559.3 47.1,558.6 47.5,558.4 47.9,557.9 48.3,558.1 48.7,557.7 49.1,558.0 49.5,557.1 49.9,557.3 50.3,556.6 50.7,556.7 51.1,555.7 51.5,554.8 51.9,554.6 52.3,555.3 52.7,555.8 53.1,555.2 53.5,555.0 53.9,555.9 54.3,556.0 54.7,556.1 55.1,556.2 55.5,557.1 55.9,556.6 56.3,556.4 56.7,557.7 57.1,556.8 57.5,557.3 57.9,557.9 58.3,557.9 58.7,557.9 59.1,557.5 59.5,557.0 59.9,556.6 60.3,556.5 60.7,556.4 61.1,556.4 61.5,556.0 61.9,555.9 62.3,555.9 62.7,555.9 63.1,555.5 63.5,555.8 63.9,555.3 64.3,555.8 64.7,556.7 65.1,556.2 65.5,556.2 65.9,556.6 66.3,556.3 66.7,556.3 67.1,556.6 67.5,555.9 67.9,555.9 68.3,555.7 68.7,555.9 69.1,553.6 69.5,553.8 69.9,553.9 70.3,553.0 70.7,552.0 71.1,550.8 71.5,549.5 71.9,548.6 72.33,548.3 72.77,547.4 73.2,546.6 73.55,545.8 73.9,546.7 74.25,545.1 74.6,544.4 75.0,545.2 75.4,546.5 75.8,547.4 76.2,548.6 76.54,548.8 76.88,547.8 77.22,549.1 77.56,550.1 77.9,549.9 78.3,550.2 78.7,551.5 79.1,552.7 79.5,553.5 79.9,553.9 80.3,554.2 80.7,552.3 81.1,552.5 81.5,552.1 81.9,551.9 82.3,551.3 82.7,550.6 83.1,547.9 83.5,548.7 83.9,547.3 84.33,546.1 84.77,546.6 85.2,545.7 85.6,545.4 86.0,546.7 86.4,547.6 86.8,547.4 87.2,547.9 87.6,548.4 88.0,549.1 88.4,549.2 88.8,549.5 89.2,549.9 89.6,550.5 90.0,550.2 90.4,549.4 90.8,550.7 91.2,549.3 91.6,548.1 92.0,548.4 92.4,547.2 92.8,546.7 93.2,546.0 93.6,545.6 94.0,544.5 94.4,543.9 94.8,542.0 95.2,542.0 95.6,541.6 96.0,543.1 96.4,542.7 96.8,543.1 97.2,544.0 97.6,543.1 98.0,544.4 98.4,544.0 98.8,544.2 99.2,543.3 99.55,542.2 99.9,542.1 100.25,540.9 100.6,541.4 100.95,541.2 101.3,539.3 101.65,540.0 102.0,538.6 102.4,538.6 102.8,537.5 103.2,535.9 103.6,537.3 104.0,536.0 104.4,535.5 104.8,534.9 105.2,535.0 105.6,534.6 106.0,534.0 106.4,535.5 106.8,534.7 107.2,536.6 107.6,537.5 108.0,537.3 108.4,538.4 108.8,537.7 109.2,537.7 109.6,538.9 110.0,538.6 110.43,538.9 110.87,539.1 111.3,539.3 111.73,538.8 112.17,536.5 112.6,535.3 112.95,533.7 113.3,534.4 113.65,533.3 114.0,534.0 114.43,536.0 114.87,537.2 115.3,538.6 115.7,539.2 116.1,540.5 116.5,541.9 116.9,542.4 117.3,543.3 117.7,543.6 118.1,542.5 118.5,542.6 118.9,542.5 119.3,541.3 119.7,541.9 120.1,540.4 120.5,540.9 120.9,539.2 121.3,539.9 121.73,538.6 122.17,537.5 122.6,537.9 122.95,539.2 123.3,538.6 123.65,539.9 124.0,540.6 124.4,539.8 124.8,539.3 125.2,538.3 125.6,538.1 126.0,537.3 126.38,538.5 126.76,537.8 127.14,538.4 127.52,538.9 127.9,538.6 128.3,538.0 128.7,536.9 129.1,536.7 129.5,537.1 129.9,536.0 130.3,534.8 130.7,535.1 131.1,535.7 131.5,535.3 131.9,534.6 132.3,533.9 132.7,533.7 133.1,532.7 133.5,531.3 133.9,531.3 134.3,529.7 134.7,529.6 135.1,529.9 135.5,528.3 135.9,528.0 136.3,528.3 136.7,529.1 137.1,529.5 137.5,531.1 137.9,532.0 138.3,531.7 138.7,533.0 139.1,531.8 139.5,533.8 139.9,534.0 140.3,533.9 140.7,533.4 141.1,535.2 141.5,534.9 141.9,535.3 142.25,533.3 142.6,533.4 142.95,533.4 143.3,532.6 143.73,531.7 144.17,531.7 144.6,530.6 145.0,531.6 145.4,532.1 145.8,532.4 146.2,533.5 146.6,533.3 147.0,533.4 147.4,533.0 147.8,531.3 148.2,532.8 148.6,532.0 149.0,533.2 149.4,532.6 149.8,532.9 150.2,534.7 150.6,534.0 151.0,533.1 151.4,534.5 151.8,535.8 152.2,533.9 152.6,534.6 153.0,534.3 153.4,534.4 153.8,532.5 154.2,532.3 154.6,531.3 155.0,532.5 155.4,532.1 155.8,533.2 156.2,534.1 156.6,534.6 157.0,534.6 157.4,533.5 157.8,532.9 158.2,531.9 158.6,532.0 158.94,531.1 159.28,531.2 159.62,530.0 159.96,528.8 160.3,528.6 160.7,528.4 161.1,530.9 161.5,530.3 161.9,530.0 162.3,529.3 162.7,526.2 163.1,527.1 163.5,526.0 163.9,524.6 164.3,525.6 164.7,524.6 165.1,524.2 165.5,524.5 165.9,524.0 166.3,523.3 166.7,525.7 167.1,525.7 167.5,526.0 167.93,523.5 168.37,522.9 168.8,520.0 169.17,519.7 169.53,515.9 169.9,515.3 170.33,513.7 170.77,513.3 171.2,512.0 171.6,511.3 172.0,510.1 172.4,508.9 172.8,510.4 173.2,508.0 173.6,508.1 174.0,505.8 174.4,505.0 174.8,506.6 175.2,504.7 175.55,506.3 175.9,507.7 176.25,507.8 176.6,508.0 176.98,507.1 177.36,507.7 177.74,505.6 178.12,506.4 178.5,506.7 178.85,505.7 179.2,505.1 179.55,503.1 179.9,502.7 180.3,500.9 180.7,499.7 181.1,498.0 181.5,496.0 181.93,493.0 182.37,489.0 182.8,485.3 183.15,483.2 183.5,482.4 183.85,479.9 184.2,478.0 184.63,479.4 185.07,481.8 185.5,484.6 185.87,487.5 186.23,490.3 186.6,493.3 187.1,498.7 187.6,503.9 188.05,498.6 188.5,493.3 188.85,491.8 189.2,489.8 189.55,487.2 189.9,486.6 190.33,486.3 190.77,486.2 191.2,484.6 191.63,486.3 192.07,487.1 192.5,488.6 192.85,489.7 193.2,489.1 193.55,489.0 193.9,491.3 194.33,490.9 194.77,489.6 195.2,490.0 195.63,493.1 196.07,494.0 196.5,497.3 196.85,496.5 197.2,499.1 197.55,502.5 197.9,502.6 198.32,501.3 198.75,499.5 199.18,499.0 199.6,498.6 200.0,497.4 200.4,495.7 200.8,493.8 201.2,492.0 201.6,492.1 202.0,490.3 202.4,488.5 202.8,487.3 203.16,489.0 203.52,491.1 203.88,491.7 204.24,493.0 204.6,493.3 204.95,493.0 205.3,494.5 205.65,495.9 206.0,495.9 206.43,493.9 206.87,493.3 207.3,490.6 207.7,490.1 208.1,489.3 208.5,487.2 208.9,488.6 209.3,485.3 209.73,484.9 210.17,482.0 210.6,480.6 210.95,482.5 211.3,486.6 211.65,485.8 212.0,487.9 212.43,487.4 212.85,486.1 213.27,483.9 213.7,482.6 214.1,480.5 214.5,480.8 214.9,479.9 215.3,478.6 215.7,480.2 216.1,480.4 216.5,480.2 216.9,481.6 217.3,481.3 217.7,482.6 218.1,483.1 218.5,483.7 218.9,484.3 219.3,485.3 219.7,486.3 220.1,485.2 220.5,485.9 220.9,486.9 221.3,487.3 221.7,485.3 222.1,485.6 222.5,483.5 222.9,484.0 223.3,483.9 223.7,483.8 224.1,483.1 224.5,481.9 224.9,481.3 225.32,481.6 225.75,481.0 226.18,484.5 226.6,483.3 226.94,482.6 227.28,481.9 227.62,478.9 227.96,478.3 228.3,477.3 228.65,473.9 229.0,474.7 229.35,473.2 229.7,470.6 230.1,467.7 230.5,468.5 230.9,468.2 231.3,466.6 231.7,463.5 232.1,462.1 232.5,461.5 232.9,461.3 233.32,457.6 233.75,453.8 234.18,452.3 234.6,449.3 235.03,450.9 235.47,452.7 235.9,453.3 236.24,452.9 236.59,452.7 236.93,451.2 237.27,447.3 237.61,447.0 237.96,445.2 238.3,445.3 238.7,442.4 239.1,442.0 239.5,440.5 239.9,439.5 240.3,437.3 240.7,434.3 241.1,433.7 241.5,434.1 241.9,432.8 242.3,432.0 242.73,432.0 243.17,432.8 243.6,433.3 244.03,427.9 244.47,425.3 244.9,420.0 245.4,417.8 245.9,414.6 246.4,419.2 246.9,424.0 247.25,424.8 247.6,427.1 247.95,425.5 248.3,430.6 248.8,433.4 249.3,438.6 249.8,440.6 250.3,442.6 250.73,437.3 251.17,435.8 251.6,432.0 252.03,434.4 252.47,434.7 252.9,438.6 253.25,437.6 253.6,436.9 253.95,437.2 254.3,436.0 254.73,434.1 255.17,430.6 255.6,428.0 256.03,427.1 256.47,428.2 256.9,428.6 257.33,430.1 257.77,432.6 258.2,433.3 258.55,435.3 258.9,435.7 259.25,436.6 259.6,439.9 260.2,447.9 260.55,446.5 260.9,445.0 261.25,443.6 261.6,443.9 262.05,455.1 262.5,466.6 262.9,434.6 263.27,433.6 263.63,433.9 264.0,433.3 264.45,440.6 264.9,446.6 265.35,452.1 265.8,458.6 266.17,464.5 266.53,465.3 266.9,469.2 267.27,472.9 267.63,474.5 268.0,477.0 268.45,471.6 268.9,463.9 269.33,457.8 269.77,456.0 270.2,453.3 270.55,452.6 270.9,452.0 271.25,452.9 271.6,449.3 272.03,447.0 272.47,445.4 272.9,441.3 273.33,440.4 273.77,438.9 274.2,436.0 274.55,435.3 274.9,433.1 275.25,432.6 275.6,430.6 276.03,426.6 276.47,426.8 276.9,422.6 277.35,417.3 277.8,414.6 278.17,418.9 278.53,425.4 278.9,426.6 279.33,428.6 279.77,431.1 280.2,433.3 280.55,435.1 280.9,434.0 281.25,433.3 281.6,434.6 282.1,437.6 282.6,439.9 283.03,438.4 283.47,436.4 283.9,433.3 284.25,430.3 284.6,431.5 284.95,429.4 285.3,425.3 285.73,423.3 286.17,421.6 286.6,419.3 287.03,421.4 287.47,426.5 287.9,427.3 288.26,427.2 288.62,429.7 288.98,429.1 289.34,429.6 289.7,431.3 290.1,431.5 290.5,431.6 290.9,429.3 291.3,428.6 291.7,426.9 292.1,428.0 292.5,426.1 292.9,425.8 293.3,424.6 293.73,425.2 294.17,423.4 294.6,420.6 295.03,417.7 295.47,419.2 295.9,414.0 296.3,414.2 296.7,412.3 297.1,411.6 297.5,407.7 297.9,406.7 298.3,404.9 298.69,401.0 299.07,404.8 299.46,402.9 299.84,397.8 300.23,396.1 300.61,394.6 301.0,395.6 301.43,393.8 301.87,387.8 302.3,384.9 302.67,379.5 303.03,373.8 303.4,369.0 303.85,376.8 304.3,384.9 304.73,386.8 305.17,392.1 305.6,395.6 306.1,388.1 306.6,384.9 307.1,389.5 307.6,394.3 307.95,397.1 308.3,399.6 308.65,400.9 309.0,403.6 309.5,396.9 310.0,392.9 310.4,391.8 310.8,389.5 311.2,391.3 311.6,387.6 311.95,390.8 312.3,391.4 312.65,392.9 313.0,395.6 313.43,391.9 313.87,388.9 314.3,387.6 314.7,385.7 315.1,385.4 315.5,384.4 315.9,383.2 316.3,381.0 316.73,382.0 317.15,375.2 317.57,374.0 318.0,371.6 318.5,372.9 319.0,365.0 319.45,364.6 319.9,370.3 320.33,366.8 320.77,365.2 321.2,362.3 321.62,364.9 322.05,367.6 322.47,368.9 322.9,371.6 323.26,374.1 323.62,375.4 323.98,378.5 324.34,376.1 324.7,381.0 325.13,376.9 325.57,375.7 326.0,373.0 326.4,369.6 326.8,367.9 327.2,369.0 327.6,366.3 328.0,363.5 328.4,364.0 328.8,362.5 329.2,359.6 329.6,358.5 330.0,357.1 330.4,354.6 330.85,351.7 331.3,349.2 331.73,343.6 332.17,342.9 332.6,339.9 332.95,341.7 333.3,340.9 333.65,342.7 334.0,343.9 334.43,341.7 334.87,335.2 335.3,333.3 335.7,334.0 336.1,335.7 336.5,330.6 336.9,331.4 337.3,330.6 337.7,329.8 338.1,332.5 338.5,329.6 338.9,330.2 339.3,327.9 339.73,330.2 340.17,335.0 340.6,338.6 340.95,340.6 341.3,339.4 341.65,347.2 342.0,346.6 342.43,345.6 342.87,338.1 343.3,338.6 343.73,336.7 344.15,331.7 344.57,329.5 345.0,325.3 345.4,326.7 345.8,323.7 346.2,326.8 346.6,327.9 346.95,329.1 347.3,323.5 347.65,321.0 348.0,321.3 348.43,315.9 348.87,313.5 349.3,313.3 349.73,309.6 350.17,307.9 350.6,300.0 350.95,303.5 351.3,305.8 351.65,312.6 352.0,310.6 352.43,307.8 352.87,305.7 353.3,305.3 353.73,305.1 354.17,303.8 354.6,301.3 355.0,299.5 355.4,299.5 355.8,302.9 356.2,302.6 356.7,299.8 357.2,296 357.6,289.4 358.0,288.1 358.4,284.8 358.8,272.2 359.2,262 359.8,245 360.3,228.3 360.67,231.9 361.03,232.9 361.4,235.6 361.85,233.4 362.3,231.6 362.75,237.4 363.2,244.9 363.55,257.4 363.9,264.9 364.4,277.0 364.9,282.8 365.4,277.5 365.9,273.8 366.27,272.3 366.65,265.1 367.02,263.5 367.4,259.9 367.9,256.5 368.4,249.5 368.9,260.8 369.4,264.9 369.9,261.5 370.4,259.9 370.9,266.2 371.4,272.8 372.0,288 372.6,301.3 373.05,295.1 373.5,288 373.95,277.1 374.4,272.8 374.75,270.4 375.1,266.3 375.45,266.2 375.8,262.9 376.3,257.7 376.8,257.9 377.3,250.4 377.8,252.4 378.3,259.2 378.8,265.9 379.18,268.0 379.55,267.6 379.93,272.4 380.3,271.8 380.68,272.2 381.05,272.4 381.43,275.9 381.8,275.8 382.18,272.8 382.55,275.3 382.93,277.3 383.3,277.8 383.8,282.7 384.3,283.8 384.7,288.2 385.1,293.9 385.5,298 385.93,292.9 386.37,291.3 386.8,287 387.2,290.1 387.6,284.5 388.0,290.7 388.4,285 388.77,286.7 389.15,291.2 389.52,294.6 389.9,297.3 390.25,298.1 390.6,291.9 390.95,288.6 391.3,291.7 391.68,291.8 392.05,291.0 392.43,289.4 392.8,286.8 393.18,290.9 393.55,283.8 393.93,282.1 394.3,279.8 394.75,277.0 395.2,269.9 395.7,265.8 396.2,259.9 396.7,261.3 397.2,254.9 397.63,250.6 398.07,251.3 398.5,250.9 399.0,246.2 399.5,257.9 399.85,263.3 400.2,264.9 400.7,265.0 401.2,266.9 401.7,267.0 402.2,262.9 402.7,266.0 403.2,258.9 403.7,262.9 404.2,266.9 404.57,267.5 404.95,268.2 405.32,268.7 405.7,271.8 406.07,272.4 406.45,277.2 406.82,277.9 407.2,279.8 407.7,276.4 408.2,272.8 408.57,273.4 408.95,276.9 409.32,276.9 409.7,276.8 410.2,280.0 410.7,283.8 411.2,289.2 411.7,291.7 412.07,292.1 412.43,290.8 412.8,294 413.17,295.6 413.53,291.9 413.9,289.3 414.27,289.9 414.63,296.9 415.0,297.3 415.35,309.4 415.7,320.0 416.2,341.3 416.57,332.6 416.93,332.8 417.3,324.0 417.73,329.1 418.17,334.6 418.6,337.3 418.95,336.0 419.3,333.7 419.65,329.4 420.0,330.6 420.5,335.1 421.0,336.0 421.5,341.4 422.0,346.6 422.45,359.4 422.9,373.2 423.27,367.2 423.63,360.1 424.0,353.3 424.43,351.8 424.87,347.3 425.3,345.3 425.73,346.1 426.17,343.2 426.6,347.9 426.97,343.2 427.33,341.2 427.7,336.0 428.15,334.8 428.6,328.6 428.95,330.7 429.3,334.0 429.65,340.0 430.0,339.9 430.43,342.0 430.87,346.6 431.3,347.9 431.73,352.7 432.17,351.6 432.6,353.3 432.95,353.1 433.3,347.3 433.65,346.6 434.0,343.9 434.43,346.9 434.87,350.4 435.3,353.3 435.73,357.0 436.17,361.0 436.6,358.6 437.03,359.7 437.47,362.0 437.9,365.2 438.25,368.4 438.6,368.2 438.95,373.1 439.3,374.6 439.73,372.0 440.17,367.0 440.6,363.9 441.0,364.0 441.4,359.7 441.8,362.8 442.2,358.1 442.6,359.9 443.03,356.0 443.47,353.6 443.9,351.9 444.25,349.5 444.6,350.1 444.95,347.1 445.3,345.3 445.73,342.1 446.17,341.4 446.6,337.9 446.97,343.7 447.33,343.7 447.7,346.6 448.1,348.9 448.5,352.1 448.9,352.1 449.3,353.3 449.7,350.8 450.1,357.1 450.5,356.3 450.9,348.7 451.3,351.9 451.73,352.7 452.17,354.4 452.6,354.6 453.03,358.5 453.47,360.2 453.9,361.3 454.25,358.5 454.6,354.8 454.95,354.4 455.3,351.9 455.73,352.6 456.15,347.7 456.57,346.6 457.0,347.3 457.4,348.4 457.8,346.2 458.2,350.3 458.6,351.9 459.0,351.4 459.4,353.3 459.8,351.5 460.2,351.5 460.6,353.3 461.03,354.2 461.47,356.3 461.9,358.0 462.3,358.2 462.7,360.7 463.1,363.2 463.5,365.3 463.9,364.6 464.26,368.5 464.62,365.5 464.98,367.1 465.34,364.8 465.7,370.0 466.13,371.4 466.57,365.2 467.0,364.6 467.43,371.2 467.87,378.8 468.3,384.6 468.7,380.1 469.1,380.7 469.5,377.6 469.9,375.3 470.25,370.7 470.6,372.4 470.95,372.2 471.3,368.6 471.73,368.2 472.17,375.2 472.6,376.6 473.03,373.4 473.47,370.3 473.9,366.0 474.33,362.1 474.77,358.8 475.2,351.9 475.55,354.7 475.9,359.8 476.25,360.7 476.6,364.6 477.0,367.1 477.4,365.9 477.8,368.4 478.2,372.8 478.6,371.3 479.03,375.3 479.45,377.6 479.88,379.3 480.3,384.4 480.7,380.2 481.1,378.8 481.5,377.0 481.9,372.6 482.3,373.6 482.7,374.0 483.1,373.4 483.5,375.9 483.9,374.0 484.24,372.6 484.58,371.5 484.92,373.0 485.26,370.9 485.6,370.0 486.0,370.9 486.4,371.7 486.8,373.6 487.2,375.3 487.6,376.6 488.0,376.4 488.4,374.1 488.8,377.0 489.2,376.6 489.6,378.8 490.0,378.8 490.4,383.5 490.8,383.7 491.2,386.0 491.6,387.8 492.0,391.8 492.4,395.0 492.8,395.3 493.16,391.9 493.52,391.2 493.88,386.8 494.24,389.2 494.6,383.3 495.0,383.9 495.4,387.8 495.8,386.3 496.2,389.8 496.6,389.9 496.98,392.0 497.36,383.4 497.74,385.3 498.12,385.4 498.5,383.3 498.88,381.9 499.25,379.7 499.62,382.9 500.0,378.3 500.4,381.6 500.8,382.1 501.2,389.2 501.6,388.4 502.0,394.2 502.4,397.8 502.8,397.1 503.2,400.1 503.6,403.6 504.0,403.6 504.4,404.6 504.8,405.2 505.2,402.5 505.6,401.3 506.0,402.9 506.43,402.6 506.87,400.0 507.3,396.9 507.65,393.0 508.0,392.9 508.35,389.7 508.7,386.3 509.13,383.8 509.57,375.6 510.0,375.6 510.43,371.5 510.87,369.9 511.3,364.9 511.73,364.4 512.17,362.9 512.6,359.6 512.96,357.1 513.32,363.1 513.68,365.2 514.04,370.3 514.4,367.6 514.8,365.0 515.2,365.1 515.6,364.7 516.0,363.6 516.4,363.1 516.8,358.8 517.2,359.6 517.6,355.6 518.02,355.9 518.45,359.4 518.88,359.7 519.3,362.3 519.73,365.2 520.17,366.5 520.6,370.3 520.95,364.3 521.3,365.5 521.65,360.8 522.0,357.0 522.43,351.5 522.87,348.4 523.3,343.6 523.73,344.1 524.17,339.1 524.6,339.6 525.1,342.7 525.6,346.3 526.1,343.3 526.6,338.3 526.95,340.9 527.3,341.0 527.65,339.5 528.0,345.0 528.43,346.4 528.87,343.8 529.3,342.3 529.7,344.0 530.1,345.1 530.5,347.8 530.9,349.0 531.24,350.9 531.58,352.5 531.92,355.7 532.26,358.6 532.6,362.3 532.95,360.3 533.3,358.3 533.65,360.4 534.0,358.3 534.43,353.8 534.87,355.0 535.3,351.6 535.75,355.9 536.2,363.6 536.62,367.9 537.05,373.2 537.48,375.0 537.9,378.3 538.3,379.5 538.7,383.0 539.1,385.5 539.5,387.6 539.86,382.5 540.22,381.8 540.58,380.7 540.94,377.3 541.3,375.6 541.73,374.4 542.17,374.1 542.6,371.6 543.0,371.5 543.4,370.4 543.8,368.6 544.2,366.3 544.62,367.2 545.05,368.9 545.48,369.8 545.9,371.6 546.25,370.1 546.6,369.3 546.95,365.8 547.3,367.6 547.64,365.4 547.98,364.4 548.32,361.2 548.66,361.2 549.0,359.6 549.43,359.2 549.87,356.7 550.3,355.6 550.65,362.4 551.0,357.8 551.35,365.2 551.7,368.9 552.1,363.5 552.5,365.9 552.9,366.4 553.3,359.6 553.73,353.5 554.17,356.3 554.6,354.3 555.03,357.9 555.47,359.1 555.9,362.3 556.3,364.8 556.7,361.8 557.1,368.5 557.5,369.3 557.9,370.3 558.25,368.3 558.6,365.3 558.95,365.4 559.3,362.3 559.64,360.1 559.98,360.0 560.32,357.4 560.66,353.1 561.0,355.6 561.43,352.9 561.87,350.6 562.3,347.6 562.73,347.4 563.17,343.0 563.6,343.0 563.95,345.1 564.3,348.4 564.65,349.7 565.0,351.6 565.4,354.1 565.8,355.8 566.2,351.1 566.6,353.0 567.0,351.0 567.4,357.1 567.8,359.6 568.2,358.3 568.63,360.3 569.07,360.6 569.5,359.6 569.84,357.7 570.18,356.8 570.52,358.7 570.86,354.8 571.2,355.6 571.6,351.6 572.0,352.3 572.4,357.6 572.8,355.8 573.2,351.6 573.55,348.7 573.9,347.0 574.25,347.1 574.6,345.0 575.0,342.6 575.4,345.4 575.8,341.9 576.2,341.0 576.62,340.7 577.05,346.7 577.48,344.9 577.9,347.6 578.33,346.7 578.77,344.9 579.2,343.6 579.55,344.7 579.9,347.5 580.25,347.4 580.6,350.3 581.02,344.7 581.45,341.7 581.88,341.0 582.3,341.0 582.7,341.0 583.1,343.6 583.5,345.1 583.9,346.3 584.3,348.1 584.7,348.1 585.1,347.3 585.5,348.2 585.9,350.3 586.3,346.8 586.7,350.5 587.1,351.9 587.5,352.3 587.9,351.6 588.3,352.4 588.7,353.3 589.1,356.2 589.5,355.6 589.84,357.2 590.18,360.1 590.52,361.4 590.86,362.4 591.2,363.6 591.6,366.8 592.0,364.8 592.4,366.2 592.8,366.5 593.2,368.9 593.6,369.6 594.0,375.4 594.4,377.8 594.8,376.9 595.14,375.9 595.48,375.7 595.82,375.6 596.16,374.0 596.5,371.6 596.9,374.4 597.3,371.2 597.7,373.0 598.1,375.5 598.5,375.6 598.9,376.9 599.3,373.8 599.7,371.2 600.1,371.6 600.45,370.6 600.8,369.7 601.15,369.0 601.5,370 601.88,371.5 602.25,367.0 602.62,367.0 603,366 603.38,368.4 603.75,365.5 604.12,362.8 604.5,361 604.88,359.2 605.25,360.2 605.62,361.5 606,358 606.38,358.7 606.76,359.3 607.14,356.9 607.52,357.2 607.9,355.9 608.25,354.1 608.6,353.8 608.95,354.0 609.3,350.3 609.65,346.9 610.0,348.4 610.35,348.0 610.7,346.7 611.2,344.3 611.7,343.9 612.05,345.3 612.4,349.2 612.75,353.3 613.1,351.7 613.45,352.1 613.8,350.9 614.15,346.9 614.5,348.9 614.85,353.7 615.2,351.8 615.55,353.0 615.9,354.5 616.28,352.0 616.66,353.3 617.04,350.9 617.42,352.4 617.8,351.7 618.15,353.9 618.5,354.6 618.85,356.4 619.2,357.3 619.55,354.1 619.9,356.3 620.25,350.9 620.6,350.3 620.95,345.3 621.3,346.4 621.65,343.6 622.0,343.2 622.45,335.8 622.9,332.2 623.27,330.2 623.63,330.1 624.0,328.2 624.43,326.2 624.87,328.5 625.3,329.0 625.75,329.9 626.2,325.3 626.6,322.8 627.0,317.6 627.5,311.3 628.0,305.6 628.43,303.9 628.87,301.4 629.3,299.6 629.73,302.4 630.17,306.9 630.6,308.3 631.0,308.6 631.4,304.4 631.8,309.8 632.2,308.6 632.6,310.9 632.95,313.2 633.3,311.7 633.65,314.2 634.0,314.9 634.43,317.9 634.87,310.1 635.3,310.9 635.73,311.8 636.17,314.3 636.6,320.2 637.0,314.7 637.4,314.9 637.8,318.6 638.2,315.8 638.6,316.3 639.03,309.9 639.47,308.0 639.9,308.3 640.3,306.9 640.7,301.3 641.1,299.5 641.5,297.6 641.86,297.8 642.22,299.4 642.58,300.1 642.94,297.6 643.3,294.9 643.64,293.9 643.98,292.7 644.32,294.8 644.66,292.7 645.0,288.3 645.45,281.6 645.9,276.3 646.4,286.6 646.9,294.9 647.5,316.3 647.85,302.9 648.2,288.3 648.57,282.7 648.93,275.7 649.3,271.0 649.8,261.3 650.3,257.7 650.65,258.4 651.0,258.1 651.35,266.6 651.7,265.7 652.1,265.3 652.5,259.5 652.9,263.9 653.3,259.0 653.73,265.1 654.17,262.6 654.6,271.0 655.03,272.6 655.47,267.5 655.9,263.0 656.25,265.9 656.6,256.1 656.95,258.3 657.3,255.0 657.7,244.2 658.13,240.0 658.57,234.1 659,228.3 659.5,220.7 660,212.3 660.6,193.6 660.97,201.7 661.33,200.4 661.7,209.6 662.13,208.1 662.57,209.5 663,214.9 663.35,214.8 663.7,216.0 664.05,219.9 664.4,220.3 664.83,223.7 665.27,225.7 665.7,228.3 666.1,227.2 666.5,228.5 666.9,232.7 667.3,230.9 667.73,231.5 668.17,228.5 668.6,226.9 669.05,221.8 669.5,218.3 669.87,227.4 670.23,227.0 670.6,233.6 671.03,237.4 671.47,240.9 671.9,240.2 672.25,237.6 672.6,238.3 672.95,231.5 673.3,232.3 673.8,227.6 674.3,217.6 674.8,226.1 675.3,233.6 675.73,231.4 676.17,238.8 676.6,238.9 677.03,238.9 677.47,246.5 677.9,245.6 678.25,248.2 678.6,254 678.95,255.9 679.3,259.3 679.65,260.2 680,263.3 680.45,269.5 680.9,274.5 681.33,270.4 681.77,270.4 682.2,266 682.55,263.7 682.9,261.8 683.25,252.5 683.6,256.6 684.02,256.7 684.45,251.2 684.88,244.0 685.3,245.6 685.73,242.3 686.17,239.6 686.6,234.9 687.03,234.8 687.47,226.4 687.9,226.3 688.25,233.1 688.6,231.5 688.95,240.9 689.3,237.6 689.73,241.6 690.17,247.9 690.6,250.6 691.03,248.0 691.47,244.6 691.9,245.6 692.25,247.9 692.6,247.0 692.95,248.1 693.3,243.9 693.73,250.2 694.17,251.0 694.6,256.6 695.03,248.6 695.47,247.0 695.9,244.6 696.25,245.3 696.6,247.3 696.95,253.1 697.3,254 697.7,256.4 698.1,256.6 698.5,259.2 698.9,260.1 699.3,262 699.7,260.2 700.1,259.1 700.5,257.2 700.9,252.6 701.4,247.4 701.9,245.6 702.33,238.5 702.77,242.5 703.2,235.6 703.6,240.7 704.0,247.9 704.4,250 704.8,247.7 705.2,252.5 705.6,254.9 706.0,253.6 706.4,248.8 706.8,249.7 707.2,249.6 707.6,250.6 708.0,250.6 708.4,251.1 708.8,244.3 709.2,245.6 709.55,240.5 709.9,243.5 710.25,242.9 710.6,238.9 711.03,235.0 711.47,226.7 711.9,225.6 712.35,222.3 712.8,214.9 713.2,209.0 713.6,199 714.1,206.4 714.6,211 715.03,212.4 715.47,217.1 715.9,218.9 716.33,218.3 716.77,212.2 717.2,211 717.65,212.9 718.1,224.3 718.45,227.7 718.8,230.7 719.15,232.1 719.5,234.6 719.93,238.9 720.37,237.3 720.8,240.9 721.23,238.6 721.67,235.9 722.1,234.6 722.45,238.4 722.8,243.4 723.15,241.2 723.5,244.2 723.84,250.9 724.18,251.3 724.52,251.2 724.86,252.3 725.2,252.6 725.55,260.1 725.9,258.9 726.25,262.4 726.6,266 727.03,257.7 727.47,255.5 727.9,248.6 728.33,254.5 728.77,255.2 729.2,256.6 729.6,259.5 730.0,259.9 730.4,262.6 730.8,260.8 731.2,266 731.55,270.7 731.9,269.7 732.25,270.4 732.6,275.3 733.1,278.1 733.6,284.3 733.95,281.6 734.3,284.3 734.65,283.9 735,280.6 735.43,273.1 735.87,273.8 736.3,267.3 736.73,265.8 737.17,258.8 737.6,256.6 738.03,250.8 738.47,250.4 738.9,250 739.3,246.3 739.7,246.6 740.1,242.8 740.5,241.6 740.93,232.5 741.37,234.3 741.8,229.7 742.15,223.2 742.5,227.0 742.85,219.1 743.2,219.7 743.7,222.3 744.2,228.4 744.63,229.8 745.07,234.1 745.5,239.0 746.0,245.5 746.5,245.6 746.95,237.8 747.4,225.7 747.77,222.4 748.13,216.8 748.5,211.1 748.93,204.0 749.37,203.5 749.8,201.8 750.3,197.7 750.8,196.5 751.3,198.0 751.8,204.5 752.25,201.8 752.7,196.5 753.07,199.0 753.43,203.5 753.8,209.8 754.23,208.9 754.67,208.0 755.1,215.1 755.53,218.4 755.97,222.1 756.4,220.4 756.77,222.2 757.13,220.5 757.5,224.4 757.93,213.8 758.37,217.8 758.8,213.8 759.23,214.7 759.67,210.1 760.1,207.1 760.6,217.5 761.1,223.1 761.53,224.7 761.97,221.6 762.4,216.4 762.83,214.4 763.27,217.4 763.7,213.8 764.13,218.9 764.57,216.0 765.0,223.1 765.5,227.4 766.0,233.7 766.4,234.7 766.8,242.9 767.25,231.4 767.7,220.4 768.05,216.6 768.4,209.8 768.83,210.6 769.27,211.5 769.7,220.4 770.13,219.8 770.57,213.4 771.0,208.5 771.37,206.1 771.73,192.7 772.1,189.9 772.55,198.0 773.0,200.5 773.45,199.9 773.9,188.6 774.25,197.5 774.6,195.4 774.95,200.2 775.3,203.2 775.73,201.0 776.17,202.3 776.6,197.9 777.1,198.6 777.6,193.9 777.97,198.5 778.33,199.2 778.7,207.1 779.15,197.1 779.6,183.3 780.05,177.7 780.5,174.6 780.87,174.5 781.23,171.8 781.6,169.3 782.05,162.9 782.5,148.1 782.85,144.4 783.2,134.8 783.7,127.7 784.2,122.9 784.65,131.8 785.1,138.8 785.6,140.7 786.1,133.5 786.53,126.8 786.97,124.0 787.4,117.5 787.77,125.5 788.13,130.5 788.5,132.1 788.93,136.5 789.37,134.9 789.8,141.4 790.23,133.3 790.67,132.3 791.1,126.8 791.47,125.6 791.83,129.0 792.2,120.2 792.65,125.3 793.1,134.8 793.45,127.8 793.8,114.9 794.3,113.6 794.8,108.3 795.15,102.3 795.5,102.8 795.85,103.7 796.2,101.6 796.5,93.9 796.93,89.5 797.37,87.3 797.8,84.6 798.25,75.2 798.7,63.4 799.1,67.2 799.5,75.3 799.95,71.2 800.4,64.7 800.9,56.0 801.4,50.7 801.7,54.7" fill="none" stroke="#000" stroke-width="1.25" stroke-linejoin="miter" stroke-miterlimit="2" shape-rendering="crispEdges"/>
<rect x="802.6" y="48.4" width="1.5" height="1.6" fill="#111"/>
<line x1="0" y1="31.5" x2="804" y2="31.5" stroke="#9a9a9a" stroke-width="1"/>
<line x1="0" y1="587.5999999999999" x2="804" y2="587.5999999999999" stroke="#b0b0b0" stroke-width="1"/>
<g stroke="#2fd62f" stroke-width="1.3"><line x1="602" y1="356.6" x2="615" y2="356.6"/><line x1="602" y1="372.8" x2="615.6" y2="372.8"/></g>
<g id="labels"><g class="lb"><path d="M8.0,574.3 L12.6,569.6 L17.2,574.3"/><rect x="-3.5" y="574.3" width="31.7" height="9.9"/><text class="dc" transform="translate(12.3,582.6) scale(0.94,1)">256.60</text></g><g class="lb"><path d="M69.7,537.6 L74.3,542.8 L78.9,537.6"/><rect x="58.2" y="527.6" width="31.3" height="10.0"/><text class="dc" transform="translate(73.8,536.0) scale(0.94,1)">379.90</text></g><g class="lb"><path d="M75.7,561.2 L80.3,556.2 L84.9,561.2"/><rect x="64.2" y="561.2" width="31.3" height="10.0"/><text class="dc" transform="translate(79.8,569.6) scale(0.94,1)">322.20</text></g><g class="lb"><path d="M109.1,527.3 L113.7,532.6 L118.3,527.3"/><rect x="97.9" y="517.3" width="31.3" height="10.0"/><text class="dc" transform="translate(113.5,525.7) scale(0.94,1)">428.80</text></g><g class="lb"><path d="M112.7,550.4 L117.3,545.2 L121.9,550.4"/><rect x="101.7" y="550.4" width="31.3" height="10.0"/><text class="dc" transform="translate(117.3,558.8) scale(0.94,1)">374.90</text></g><g class="lb"><path d="M182.8,510.4 L187.4,505.4 L192.0,510.4"/><rect x="171.4" y="510.4" width="31.3" height="10.0"/><text class="dc" transform="translate(187.1,518.8) scale(0.94,1)">566.50</text></g><g class="lb"><path d="M179.6,466.2 L184.2,471.5 L188.8,466.2"/><rect x="168.4" y="456.2" width="31.3" height="10.0"/><text class="dc" transform="translate(184.1,464.6) scale(0.94,1)">721.50</text></g><g class="lb"><path d="M186.4,477.8 L191.0,483 L195.6,477.8"/><rect x="174.1" y="467.8" width="31.3" height="10.0"/><text class="dc" transform="translate(189.8,476.2) scale(0.94,1)">668.00</text></g><g class="lb"><path d="M245.7,450.8 L250.3,445.6 L254.9,450.8"/><rect x="234.4" y="450.8" width="31.3" height="10.0"/><text class="dc" transform="translate(250.1,459.2) scale(0.94,1)">858.00</text></g><g class="lb"><path d="M251.5,413.2 L256.1,418.2 L260.7,413.2"/><rect x="240.1" y="403.4" width="31.3" height="9.8"/><text class="dc" transform="translate(255.8,411.6) scale(0.94,1)">978.70</text></g><g class="lb"><path d="M259.0,427.6 L263.6,432.6 L268.2,427.6"/><rect x="247.0" y="417.8" width="31.3" height="9.8"/><text class="dc" transform="translate(262.6,426.0) scale(0.94,1)">909.00</text></g><g class="lb"><path d="M264.0,483 L268.6,478 L273.2,483"/><rect x="253.4" y="483.0" width="31.3" height="10.0"/><text class="dc" transform="translate(269.1,491.4) scale(0.94,1)">705.00</text></g><g class="lb"><path d="M298.8,363.6 L303.4,368.6 L308.0,363.6"/><rect x="285.0" y="353.6" width="36.0" height="10.0"/><text class="dc" transform="translate(303.0,362.0) scale(0.94,1)">1218.30</text></g><g class="lb"><path d="M304.4,410.2 L309.0,405 L313.6,410.2"/><rect x="291.0" y="410.2" width="36.0" height="10.0"/><text class="dc" transform="translate(309.0,418.6) scale(0.94,1)">1052.80</text></g><g class="lb"><path d="M368.0,307.2 L372.6,302.4 L377.2,307.2"/><rect x="354.0" y="307.2" width="36.0" height="9.8"/><text class="dc" transform="translate(372.0,315.4) scale(0.94,1)">1549.20</text></g><g class="lb"><path d="M355.7,222.4 L360.3,227.6 L364.9,222.4"/><rect x="342.0" y="212.4" width="36.0" height="10.0"/><text class="dc" transform="translate(360.0,220.8) scale(0.94,1)">1900.40</text></g><g class="lb"><path d="M394.0,245.2 L398.6,250.4 L403.2,245.2"/><rect x="379.5" y="235.4" width="36.0" height="9.8"/><text class="dc" transform="translate(397.5,243.6) scale(0.94,1)">1791.80</text></g><g class="lb"><path d="M424.0,322.2 L428.6,327.4 L433.2,322.2"/><rect x="409.7" y="312.4" width="36.0" height="9.8"/><text class="dc" transform="translate(427.7,320.6) scale(0.94,1)">1417.50</text></g><g class="lb"><path d="M418.0,379.3 L422.6,374.4 L427.2,379.3"/><rect x="403.3" y="379.3" width="36.0" height="9.7"/><text class="dc" transform="translate(421.3,387.4) scale(0.94,1)">1200.60</text></g><g class="lb"><path d="M470.9,346.6 L475.5,351.8 L480.1,346.6"/><rect x="457.0" y="336.8" width="36.0" height="9.8"/><text class="dc" transform="translate(475.0,345.0) scale(0.94,1)">1302.10</text></g><g class="lb"><path d="M463.7,392.8 L468.3,387.6 L472.9,392.8"/><rect x="449.5" y="392.8" width="36.2" height="9.8"/><text class="dc" transform="translate(467.6,401.0) scale(0.94,1)">1140.00</text></g><g class="lb"><path d="M500.2,411 L504.8,405.8 L509.4,411"/><rect x="487.0" y="411.0" width="36.0" height="9.8"/><text class="dc" transform="translate(505.0,419.2) scale(0.94,1)">1050.10</text></g><g class="lb"><path d="M522.0,331.8 L526.6,337 L531.2,331.8"/><rect x="507.8" y="322.0" width="36.3" height="9.8"/><text class="dc" transform="translate(526.0,330.2) scale(0.94,1)">1372.60</text></g><g class="lb"><path d="M534.9,395 L539.5,389.8 L544.1,395"/><rect x="521.0" y="395.0" width="36.0" height="9.8"/><text class="dc" transform="translate(539.0,403.2) scale(0.94,1)">1129.80</text></g><g class="lb"><path d="M572.0,334.6 L576.6,339.8 L581.2,334.6"/><rect x="558.0" y="324.8" width="36.0" height="9.8"/><text class="dc" transform="translate(576.0,333.0) scale(0.94,1)">1362.90</text></g><g class="lb"><path d="M590.2,384 L594.8,378.8 L599.4,384"/><rect x="576.5" y="384.0" width="36.0" height="9.8"/><text class="dc" transform="translate(594.5,392.2) scale(0.94,1)">1184.00</text></g><g class="lb"><path d="M656.0,187.4 L660.6,192.6 L665.2,187.4"/><rect x="641.5" y="177.6" width="36.0" height="9.8"/><text class="dc" transform="translate(659.5,185.8) scale(0.94,1)">2069.40</text></g><g class="lb"><path d="M676.4,280.6 L681.0,275.4 L685.6,280.6"/><rect x="662.0" y="280.6" width="36.0" height="9.8"/><text class="dc" transform="translate(680.0,288.8) scale(0.94,1)">1678.00</text></g><g class="lb"><path d="M709.0,193.4 L713.6,198.6 L718.2,193.4"/><rect x="694.5" y="183.6" width="36.0" height="9.8"/><text class="dc" transform="translate(712.5,191.8) scale(0.94,1)">2043.30</text></g><g class="lb"><path d="M729.6,291 L734.2,285.8 L738.8,291"/><rect x="716.8" y="291.0" width="36.0" height="9.8"/><text class="dc" transform="translate(734.8,299.2) scale(0.94,1)">1630.90</text></g></g>
<g id="pct"><rect x="562" y="353" width="27.4" height="12.8" fill="#fff"/><text x="575.5" y="363.1" font-size="9.8" text-anchor="middle" letter-spacing="0.3" stroke="#000" stroke-width=".35">-4.1%</text>
<rect x="595" y="358" width="24.9" height="13.5" fill="#fff"/><text x="607.7" y="368.3" font-size="9.8" text-anchor="middle" letter-spacing="0.3" stroke="#000" stroke-width=".35">6.9%</text></g>
<g id="xaxis"><line x1="5.50" y1="587.3" x2="5.50" y2="589.9" stroke="#aaa"/><text class="dv" x="4.5" y="598" font-size="9.4" text-anchor="middle" stroke="#000" stroke-width=".3">2001</text><line x1="38.50" y1="587.3" x2="38.50" y2="589.9" stroke="#aaa"/><text class="dv" x="37.5" y="598" font-size="9.4" text-anchor="middle" stroke="#000" stroke-width=".3">2002</text><line x1="71.50" y1="587.3" x2="71.50" y2="589.9" stroke="#aaa"/><text class="dv" x="70.5" y="598" font-size="9.4" text-anchor="middle" stroke="#000" stroke-width=".3">2003</text><line x1="105.50" y1="587.3" x2="105.50" y2="589.9" stroke="#aaa"/><text class="dv" x="104.5" y="598" font-size="9.4" text-anchor="middle" stroke="#000" stroke-width=".3">2004</text><line x1="138.50" y1="587.3" x2="138.50" y2="589.9" stroke="#aaa"/><text class="dv" x="137.5" y="598" font-size="9.4" text-anchor="middle" stroke="#000" stroke-width=".3">2005</text><line x1="172.50" y1="587.3" x2="172.50" y2="589.9" stroke="#aaa"/><text class="dv" x="171.5" y="598" font-size="9.4" text-anchor="middle" stroke="#000" stroke-width=".3">2006</text><line x1="205.50" y1="587.3" x2="205.50" y2="589.9" stroke="#aaa"/><text class="dv" x="204.5" y="598" font-size="9.4" text-anchor="middle" stroke="#000" stroke-width=".3">2007</text><line x1="239.50" y1="587.3" x2="239.50" y2="589.9" stroke="#aaa"/><text class="dv" x="238.5" y="598" font-size="9.4" text-anchor="middle" stroke="#000" stroke-width=".3">2008</text><line x1="272.50" y1="587.3" x2="272.50" y2="589.9" stroke="#aaa"/><text class="dv" x="271.5" y="598" font-size="9.4" text-anchor="middle" stroke="#000" stroke-width=".3">2009</text><line x1="306.50" y1="587.3" x2="306.50" y2="589.9" stroke="#aaa"/><text class="dv" x="305.5" y="598" font-size="9.4" text-anchor="middle" stroke="#000" stroke-width=".3">2010</text><line x1="339.50" y1="587.3" x2="339.50" y2="589.9" stroke="#aaa"/><text class="dv" x="338.5" y="598" font-size="9.4" text-anchor="middle" stroke="#000" stroke-width=".3">2011</text><line x1="373.50" y1="587.3" x2="373.50" y2="589.9" stroke="#aaa"/><text class="dv" x="372.5" y="598" font-size="9.4" text-anchor="middle" stroke="#000" stroke-width=".3">2012</text><line x1="406.50" y1="587.3" x2="406.50" y2="589.9" stroke="#aaa"/><text class="dv" x="405.5" y="598" font-size="9.4" text-anchor="middle" stroke="#000" stroke-width=".3">2013</text><line x1="440.50" y1="587.3" x2="440.50" y2="589.9" stroke="#aaa"/><text class="dv" x="439.5" y="598" font-size="9.4" text-anchor="middle" stroke="#000" stroke-width=".3">2014</text><line x1="473.50" y1="587.3" x2="473.50" y2="589.9" stroke="#aaa"/><text class="dv" x="472.5" y="598" font-size="9.4" text-anchor="middle" stroke="#000" stroke-width=".3">2015</text><line x1="507.50" y1="587.3" x2="507.50" y2="589.9" stroke="#aaa"/><text class="dv" x="506.5" y="598" font-size="9.4" text-anchor="middle" stroke="#000" stroke-width=".3">2016</text><line x1="540.50" y1="587.3" x2="540.50" y2="589.9" stroke="#aaa"/><text class="dv" x="539.5" y="598" font-size="9.4" text-anchor="middle" stroke="#000" stroke-width=".3">2017</text><line x1="573.50" y1="587.3" x2="573.50" y2="589.9" stroke="#aaa"/><text class="dv" x="572.5" y="598" font-size="9.4" text-anchor="middle" stroke="#000" stroke-width=".3">2018</text><line x1="607.50" y1="587.3" x2="607.50" y2="589.9" stroke="#aaa"/><text class="dv" x="606.5" y="598" font-size="9.4" text-anchor="middle" stroke="#000" stroke-width=".3">2019</text><line x1="640.50" y1="587.3" x2="640.50" y2="589.9" stroke="#aaa"/><text class="dv" x="639.5" y="598" font-size="9.4" text-anchor="middle" stroke="#000" stroke-width=".3">2020</text><line x1="674.50" y1="587.3" x2="674.50" y2="589.9" stroke="#aaa"/><text class="dv" x="673.5" y="598" font-size="9.4" text-anchor="middle" stroke="#000" stroke-width=".3">2021</text><line x1="707.50" y1="587.3" x2="707.50" y2="589.9" stroke="#aaa"/><text class="dv" x="706.5" y="598" font-size="9.4" text-anchor="middle" stroke="#000" stroke-width=".3">2022</text><line x1="741.50" y1="587.3" x2="741.50" y2="589.9" stroke="#aaa"/><text class="dv" x="740.5" y="598" font-size="9.4" text-anchor="middle" stroke="#000" stroke-width=".3">2023</text><line x1="774.50" y1="587.3" x2="774.50" y2="589.9" stroke="#aaa"/><text class="dv" x="773.5" y="598" font-size="9.4" text-anchor="middle" stroke="#000" stroke-width=".3">2024</text></g>
<g id="dots"><rect x="5.00" y="601.2" width="1" height="1" fill="#dadada"/><rect x="22.00" y="601.2" width="1" height="1" fill="#dadada"/><rect x="38.00" y="601.2" width="1" height="1" fill="#dadada"/><rect x="54.00" y="601.2" width="1" height="1" fill="#dadada"/><rect x="71.00" y="601.2" width="1" height="1" fill="#dadada"/><rect x="88.00" y="601.2" width="1" height="1" fill="#dadada"/><rect x="105.00" y="601.2" width="1" height="1" fill="#dadada"/><rect x="121.00" y="601.2" width="1" height="1" fill="#dadada"/><rect x="138.00" y="601.2" width="1" height="1" fill="#dadada"/><rect x="155.00" y="601.2" width="1" height="1" fill="#dadada"/><rect x="172.00" y="601.2" width="1" height="1" fill="#dadada"/><rect x="188.00" y="601.2" width="1" height="1" fill="#dadada"/><rect x="205.00" y="601.2" width="1" height="1" fill="#dadada"/><rect x="222.00" y="601.2" width="1" height="1" fill="#dadada"/><rect x="239.00" y="601.2" width="1" height="1" fill="#dadada"/><rect x="255.00" y="601.2" width="1" height="1" fill="#dadada"/><rect x="272.00" y="601.2" width="1" height="1" fill="#dadada"/><rect x="289.00" y="601.2" width="1" height="1" fill="#dadada"/><rect x="306.00" y="601.2" width="1" height="1" fill="#dadada"/><rect x="322.00" y="601.2" width="1" height="1" fill="#dadada"/><rect x="339.00" y="601.2" width="1" height="1" fill="#dadada"/><rect x="356.00" y="601.2" width="1" height="1" fill="#dadada"/><rect x="373.00" y="601.2" width="1" height="1" fill="#dadada"/><rect x="389.00" y="601.2" width="1" height="1" fill="#dadada"/><rect x="406.00" y="601.2" width="1" height="1" fill="#dadada"/><rect x="423.00" y="601.2" width="1" height="1" fill="#dadada"/><rect x="440.00" y="601.2" width="1" height="1" fill="#dadada"/><rect x="456.00" y="601.2" width="1" height="1" fill="#dadada"/><rect x="473.00" y="601.2" width="1" height="1" fill="#dadada"/><rect x="490.00" y="601.2" width="1" height="1" fill="#dadada"/><rect x="507.00" y="601.2" width="1" height="1" fill="#dadada"/><rect x="523.00" y="601.2" width="1" height="1" fill="#dadada"/><rect x="540.00" y="601.2" width="1" height="1" fill="#dadada"/><rect x="556.00" y="601.2" width="1" height="1" fill="#dadada"/><rect x="573.00" y="601.2" width="1" height="1" fill="#dadada"/><rect x="590.00" y="601.2" width="1" height="1" fill="#dadada"/><rect x="607.00" y="601.2" width="1" height="1" fill="#dadada"/><rect x="623.00" y="601.2" width="1" height="1" fill="#dadada"/><rect x="640.00" y="601.2" width="1" height="1" fill="#dadada"/><rect x="657.00" y="601.2" width="1" height="1" fill="#dadada"/><rect x="674.00" y="601.2" width="1" height="1" fill="#dadada"/><rect x="724.00" y="601.2" width="1" height="1" fill="#dadada"/><rect x="707.00" y="601.2" width="1" height="1" fill="#dadada"/><rect x="757.00" y="601.2" width="1" height="1" fill="#dadada"/><rect x="741.00" y="601.2" width="1" height="1" fill="#dadada"/><rect x="757.00" y="601.2" width="1" height="1" fill="#dadada"/><rect x="774.00" y="601.2" width="1" height="1" fill="#dadada"/><rect x="790.00" y="601.2" width="1" height="1" fill="#dadada"/></g>
<rect x="0" y="32" width="110" height="11" fill="#fff"/>
<text class="dv" x="108.6" y="41.7" font-size="9.5" text-anchor="end" letter-spacing="0.78">$GOLD (Daily) 2759.80</text>
<text class="b" transform="translate(9.7,16.7) scale(0.8,1)" font-size="13.6" text-anchor="end" letter-spacing="1.2">$GOLD</text>
<text x="12.8" y="16.4" font-size="10.65">Gold - Continuous Contract (EOD)</text>
<text x="179.5" y="16" font-size="9" letter-spacing="0.6">CME</text>
<text class="dv" x="24.5" y="28.7" font-size="9.2" text-anchor="end" letter-spacing="0.4">23-Oct-2024</text>
<text x="716" y="16.4" font-size="11" fill="#636363">©StockCharts.com</text>
<text class="b" x="309" y="28.8" font-size="11.3">Open</text>
<text x="340.5" y="28.8" font-size="10.6">2734.70</text>
<text class="b" x="385.8" y="28.8" font-size="11.0">High</text>
<text x="412.3" y="28.8" font-size="10.6">2763.30</text>
<text class="b" x="457.6" y="28.8" font-size="11.65">Low</text>
<text x="484.5" y="28.8" font-size="10.6">2733.50</text>
<text class="b" x="529.9" y="28.8" font-size="11.6">Close</text>
<text x="564.9" y="28.8" font-size="10.6">2759.80</text>
<text class="b" x="610.1" y="28.8" font-size="11.8">Volume</text>
<text x="657.1" y="28.8" font-size="10.6">16.5</text>
<text class="b" x="692.1" y="28.8" font-size="11.1">Chg</text>
<text x="717.2" y="28.8" font-size="10.6">+20.90 (+0.76%)</text>
<text x="678.2" y="28.8" font-size="8.6">M</text>
<path d="M798.3,27.6 L801.4,23 L804.5,27.6 Z" fill="#2e7d2e"/>
</svg></body></html>
